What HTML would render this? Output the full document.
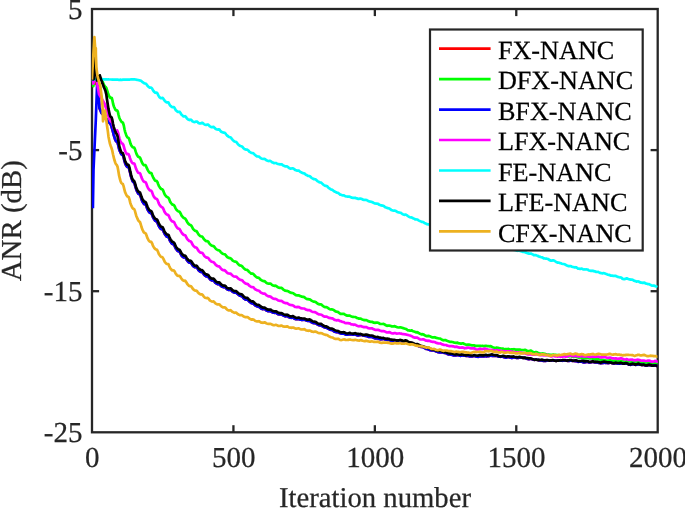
<!DOCTYPE html>
<html lang="en">
<head>
<meta charset="utf-8">
<title>ANR vs Iteration number</title>
<style>
html,body{margin:0;padding:0;background:#ffffff;}
text{text-rendering:geometricPrecision;stroke-width:0.25px;paint-order:stroke fill;}
body{width:685px;height:508px;overflow:hidden;position:relative;font-family:"Liberation Serif",serif;}
</style>
</head>
<body>
<svg width="685" height="508" viewBox="0 0 685 508" style="position:absolute;left:0;top:0;display:block;will-change:transform">
<rect x="0" y="0" width="685" height="508" fill="#ffffff"/>
<defs><clipPath id="ax"><rect x="91.7" y="9.0" width="566.1" height="423.3"/></clipPath></defs>
<g stroke="#262626" stroke-width="2.3" fill="none" stroke-linecap="butt">
<rect x="92.0" y="9.0" width="565.7" height="423.3"/>
<line x1="233.43" y1="432.3" x2="233.43" y2="425.2"/>
<line x1="233.43" y1="9.0" x2="233.43" y2="16.1"/>
<line x1="374.85" y1="432.3" x2="374.85" y2="425.2"/>
<line x1="374.85" y1="9.0" x2="374.85" y2="16.1"/>
<line x1="516.28" y1="432.3" x2="516.28" y2="425.2"/>
<line x1="516.28" y1="9.0" x2="516.28" y2="16.1"/>
<line x1="92.0" y1="150.10" x2="99.1" y2="150.10"/>
<line x1="657.7" y1="150.10" x2="650.6" y2="150.10"/>
<line x1="92.0" y1="291.20" x2="99.1" y2="291.20"/>
<line x1="657.7" y1="291.20" x2="650.6" y2="291.20"/>
</g>
<g clip-path="url(#ax)" fill="none" stroke-width="2.7" stroke-linejoin="round" stroke-linecap="butt">
<path d="M92.2,79.6 L94.0,81.0 L97.1,85.0 L97.8,88.0 L98.7,96.0 L99.4,108.0 L101.5,113.0 L104.0,115.5 L109.7,123.2 L110.7,124.3 L111.5,126.5 L112.2,128.8 L113.0,131.9 L113.7,134.8 L114.5,137.3 L115.2,139.5 L116.0,141.2 L116.7,141.7 L117.5,142.4 L118.2,145.0 L119.0,148.5 L119.7,150.8 L120.5,152.5 L121.2,154.0 L122.0,154.7 L122.7,155.0 L123.5,156.6 L124.2,159.8 L125.0,162.7 L125.7,164.6 L126.5,166.0 L127.2,166.9 L128.0,167.0 L128.7,167.4 L129.4,169.7 L130.2,173.0 L130.9,176.1 L131.7,178.5 L132.4,180.7 L133.2,181.9 L133.9,182.4 L134.7,183.9 L135.4,186.6 L136.2,189.2 L136.9,191.0 L137.7,192.6 L138.4,193.7 L139.2,194.0 L139.9,194.6 L140.7,196.4 L141.4,198.9 L142.2,200.9 L142.9,202.3 L143.7,203.5 L144.4,204.1 L145.2,204.2 L145.9,204.9 L146.7,207.0 L147.4,209.1 L148.2,210.6 L148.9,211.7 L149.7,212.7 L150.4,212.9 L151.2,213.0 L151.9,214.2 L152.7,216.4 L153.4,218.1 L154.2,219.3 L154.9,220.4 L155.7,221.1 L156.4,221.2 L157.2,221.9 L157.9,223.7 L158.7,225.7 L159.4,227.0 L160.2,228.1 L160.9,229.0 L161.7,229.2 L162.4,229.3 L163.2,230.3 L163.9,232.2 L164.7,233.8 L165.4,235.0 L166.2,236.0 L166.9,236.7 L167.7,236.7 L168.4,237.2 L169.2,238.7 L169.9,240.6 L170.7,241.9 L171.4,243.0 L172.2,243.8 L172.9,244.2 L173.7,244.3 L174.4,245.4 L175.2,247.2 L175.9,248.7 L176.7,249.7 L177.4,250.6 L178.2,251.2 L178.9,251.3 L179.7,251.8 L180.4,253.1 L181.2,254.9 L181.9,256.0 L182.7,256.7 L183.4,257.3 L184.2,257.4 L184.9,257.2 L185.7,257.8 L186.4,259.2 L187.2,260.5 L187.9,261.4 L188.7,262.2 L189.4,262.7 L190.2,262.7 L190.9,262.9 L191.7,263.9 L192.4,265.1 L193.2,266.0 L193.9,266.6 L194.7,267.1 L195.4,267.2 L196.2,267.2 L196.9,267.6 L197.7,268.7 L198.4,270.0 L199.2,270.8 L199.9,271.4 L200.7,271.9 L201.4,272.0 L202.2,272.0 L202.9,272.8 L203.7,274.1 L204.4,275.0 L205.2,275.7 L205.9,276.2 L206.7,276.5 L207.4,276.4 L208.2,276.7 L208.9,277.7 L209.7,278.8 L210.4,279.5 L211.2,280.0 L211.9,280.5 L212.7,280.4 L213.4,280.4 L214.2,281.1 L214.9,282.2 L215.7,283.0 L216.4,283.5 L217.2,283.9 L217.9,284.1 L218.7,284.0 L219.4,284.2 L220.2,285.0 L220.9,285.9 L221.7,286.5 L222.4,286.8 L223.2,287.1 L223.9,287.2 L224.7,287.0 L225.4,287.4 L226.2,288.3 L226.9,289.1 L227.7,289.5 L228.4,289.9 L229.2,290.0 L229.9,289.8 L230.7,289.9 L231.4,290.5 L232.2,291.3 L232.9,291.8 L233.7,292.3 L234.4,292.6 L235.2,292.7 L235.9,292.5 L236.7,293.0 L237.4,293.8 L238.2,294.5 L238.9,295.0 L239.7,295.6 L240.4,295.8 L241.2,295.9 L241.9,296.2 L242.7,297.0 L243.4,298.0 L244.2,298.7 L244.9,299.2 L245.7,299.6 L246.4,299.7 L247.2,299.6 L247.9,300.0 L248.7,300.9 L249.4,301.6 L250.2,302.2 L250.9,302.8 L251.7,303.2 L252.4,303.3 L253.2,303.5 L253.9,304.1 L254.7,304.9 L255.4,305.5 L256.2,305.9 L256.9,306.3 L257.7,306.6 L258.4,306.6 L259.2,306.9 L259.9,307.7 L260.7,308.2 L261.4,308.7 L262.2,308.9 L262.9,309.1 L263.7,309.0 L264.4,309.0 L265.2,309.3 L265.9,310.0 L266.7,310.5 L267.4,310.9 L268.2,311.1 L268.9,311.1 L269.7,310.9 L270.4,311.0 L271.2,311.5 L271.9,312.1 L272.7,312.4 L273.4,312.6 L274.2,312.8 L274.9,312.7 L275.7,312.7 L276.4,313.1 L277.2,313.7 L277.9,314.1 L278.7,314.3 L279.4,314.4 L280.2,314.4 L280.9,314.1 L281.7,314.3 L282.4,314.8 L283.2,315.4 L283.9,315.8 L284.7,316.1 L285.4,316.3 L286.2,316.2 L286.9,316.0 L287.7,316.1 L288.4,316.9 L289.2,317.2 L289.9,317.6 L290.7,317.7 L291.4,317.8 L292.2,317.6 L292.9,317.7 L293.7,318.0 L294.4,318.6 L295.2,318.9 L295.9,319.1 L296.7,319.1 L297.4,319.1 L298.2,318.9 L298.9,319.0 L299.7,319.4 L300.4,319.6 L301.2,319.8 L301.9,319.9 L302.7,320.0 L303.4,319.7 L304.2,319.7 L304.9,319.8 L305.7,320.2 L306.4,320.4 L307.2,320.7 L307.9,320.9 L308.7,321.0 L309.4,320.9 L310.2,321.2 L310.9,321.8 L311.7,322.3 L312.4,322.7 L313.2,323.0 L313.9,323.1 L314.7,323.1 L315.4,323.2 L316.2,323.5 L316.9,324.1 L317.7,324.5 L318.4,324.9 L319.2,325.2 L319.9,325.3 L320.7,325.3 L321.4,325.6 L322.2,326.0 L322.9,326.6 L323.7,327.0 L324.4,327.3 L325.2,327.6 L325.9,327.7 L326.7,327.8 L327.4,328.2 L328.2,328.8 L328.9,329.1 L329.7,329.4 L330.4,329.7 L331.2,329.9 L331.9,329.9 L332.7,330.2 L333.4,330.8 L334.2,331.4 L334.9,331.7 L335.7,332.0 L336.4,332.1 L337.2,332.1 L337.9,332.2 L338.7,332.5 L339.4,333.0 L340.2,333.2 L340.9,333.4 L341.7,333.6 L342.4,333.7 L343.2,333.6 L343.9,333.7 L344.7,334.0 L345.4,334.4 L346.2,334.6 L346.9,334.7 L347.7,334.6 L348.4,334.5 L349.2,334.2 L349.9,334.2 L350.7,334.4 L351.4,334.5 L352.2,334.5 L352.9,334.6 L353.7,334.4 L354.4,334.4 L355.2,334.5 L355.9,334.7 L356.7,335.1 L357.4,335.3 L358.2,335.4 L358.9,335.2 L359.7,335.2 L360.4,334.9 L361.2,334.8 L361.9,335.0 L362.7,335.4 L363.4,335.5 L364.2,335.6 L364.9,335.8 L365.7,335.9 L366.4,336.0 L367.2,336.3 L367.9,336.7 L368.7,336.8 L369.4,336.9 L370.2,336.9 L370.9,337.0 L371.7,336.9 L372.4,337.1 L373.2,337.5 L373.9,337.9 L374.7,338.1 L375.4,338.4 L376.2,338.4 L376.9,338.3 L377.7,338.5 L378.4,338.7 L379.2,339.0 L379.9,339.1 L380.7,339.3 L381.4,339.2 L382.2,339.1 L382.9,339.0 L383.7,339.0 L384.4,339.2 L385.2,339.5 L385.9,339.7 L386.7,339.7 L387.4,339.9 L388.2,339.9 L388.9,339.9 L389.7,340.1 L390.4,340.8 L391.2,341.0 L391.9,340.9 L392.7,341.0 L393.4,340.8 L394.2,340.4 L394.9,340.5 L395.7,340.6 L396.4,340.6 L397.2,340.8 L397.9,341.1 L398.7,341.0 L399.4,341.0 L400.2,340.9 L400.9,341.1 L401.7,341.1 L402.4,341.6 L403.2,341.6 L403.9,341.7 L404.7,341.6 L405.4,341.7 L406.2,341.5 L406.9,341.8 L407.7,342.3 L408.4,342.5 L409.2,342.7 L409.9,342.9 L410.7,343.0 L411.4,343.0 L412.2,343.2 L412.9,343.7 L413.7,344.0 L414.4,344.1 L415.2,344.4 L415.9,344.6 L416.7,344.5 L417.4,345.0 L418.2,345.6 L418.9,346.2 L419.7,346.4 L420.4,346.7 L421.2,346.9 L421.9,346.8 L422.7,346.8 L423.4,347.4 L424.2,347.8 L424.9,348.2 L425.7,348.6 L426.4,349.0 L427.2,349.0 L427.9,349.2 L428.7,349.5 L429.4,349.9 L430.2,350.1 L430.9,350.3 L431.7,350.2 L432.4,350.3 L433.2,350.2 L433.9,350.4 L434.7,350.6 L435.4,351.1 L436.2,351.4 L436.9,351.6 L437.7,351.9 L438.4,352.2 L439.2,352.3 L439.9,352.3 L440.7,352.4 L441.4,352.5 L442.2,352.5 L442.9,352.5 L443.7,352.6 L444.4,352.9 L445.2,352.8 L445.9,353.1 L446.7,353.6 L447.4,353.9 L448.2,354.3 L448.9,354.4 L449.7,354.5 L450.4,354.5 L451.2,354.8 L451.9,354.6 L452.7,355.0 L453.4,355.5 L454.2,355.5 L454.9,355.4 L455.7,355.5 L456.4,355.1 L457.2,354.9 L457.9,355.1 L458.7,355.3 L459.4,355.6 L460.2,355.8 L460.9,355.7 L461.7,355.6 L462.4,355.4 L463.2,355.3 L463.9,355.7 L464.7,355.7 L465.4,355.7 L466.2,355.9 L466.9,356.0 L467.7,355.8 L468.4,356.0 L469.2,356.3 L469.9,356.5 L470.7,356.5 L471.4,356.4 L472.2,356.4 L472.9,356.2 L473.7,356.0 L474.4,355.9 L475.2,356.3 L475.9,356.5 L476.7,356.7 L477.4,356.7 L478.2,356.8 L478.9,356.5 L479.7,356.3 L480.4,356.2 L481.2,356.3 L481.9,356.5 L482.7,356.3 L483.4,356.4 L484.2,356.3 L484.9,356.2 L485.7,356.1 L486.4,356.4 L487.2,356.2 L487.9,356.2 L488.7,356.1 L489.4,356.0 L490.2,355.7 L490.9,355.6 L491.7,355.8 L492.4,355.7 L493.2,355.8 L493.9,356.0 L494.7,355.9 L495.4,355.9 L496.2,356.0 L496.9,355.9 L497.7,356.1 L498.4,356.6 L499.2,356.6 L499.9,356.6 L500.7,356.8 L501.4,356.6 L502.2,356.5 L502.9,356.7 L503.7,357.1 L504.4,357.3 L505.2,357.6 L505.9,357.6 L506.7,357.4 L507.4,357.1 L508.2,357.0 L508.9,357.1 L509.7,357.5 L510.4,357.6 L511.2,357.8 L511.9,357.9 L512.7,357.7 L513.5,357.4 L514.2,357.3 L515.0,357.5 L515.7,357.7 L516.5,357.8 L517.2,357.9 L518.0,358.0 L518.7,357.7 L519.5,357.4 L520.2,357.5 L521.0,357.5 L521.7,357.6 L522.5,357.8 L523.2,357.9 L524.0,357.9 L524.7,358.0 L525.5,358.1 L526.2,358.5 L527.0,358.7 L527.7,359.0 L528.5,359.1 L529.2,359.1 L530.0,358.9 L530.7,359.0 L531.5,359.0 L532.2,359.3 L533.0,359.5 L533.7,359.7 L534.5,359.9 L535.2,359.6 L536.0,359.6 L536.7,359.7 L537.5,359.9 L538.2,359.8 L539.0,360.2 L539.7,360.3 L540.5,360.3 L541.2,360.3 L542.0,360.6 L542.7,360.8 L543.5,361.0 L544.2,360.8 L545.0,360.9 L545.7,360.9 L546.5,360.6 L547.2,360.4 L548.0,360.4 L548.7,360.3 L549.5,360.4 L550.2,360.4 L551.0,360.4 L551.7,360.5 L552.5,360.4 L553.2,360.3 L554.0,360.4 L554.7,360.5 L555.5,360.7 L556.2,360.8 L557.0,360.7 L557.7,360.7 L558.5,360.6 L559.2,360.5 L560.0,360.7 L560.7,360.7 L561.5,360.6 L562.2,360.8 L563.0,360.6 L563.7,360.4 L564.5,360.4 L565.2,360.5 L566.0,360.5 L566.7,360.7 L567.5,360.8 L568.2,360.9 L569.0,360.9 L569.7,360.7 L570.5,360.5 L571.2,360.5 L572.0,360.8 L572.7,360.8 L573.5,361.0 L574.2,361.0 L575.0,361.1 L575.7,361.0 L576.5,361.3 L577.2,361.5 L578.0,361.8 L578.7,361.7 L579.5,361.7 L580.2,361.6 L581.0,361.6 L581.7,361.8 L582.5,362.0 L583.2,362.3 L584.0,362.4 L584.7,362.4 L585.5,362.1 L586.2,362.1 L587.0,361.8 L587.7,362.0 L588.5,362.3 L589.2,362.4 L590.0,362.3 L590.7,362.2 L591.5,362.1 L592.2,361.9 L593.0,362.0 L593.7,362.2 L594.5,362.2 L595.2,362.4 L596.0,362.4 L596.7,362.4 L597.5,362.5 L598.2,362.7 L599.0,362.9 L599.7,363.0 L600.5,363.3 L601.2,363.1 L602.0,363.2 L602.7,362.8 L603.5,362.9 L604.2,362.6 L605.0,362.8 L605.7,362.7 L606.5,363.0 L607.2,363.0 L608.0,363.1 L608.7,362.9 L609.5,362.8 L610.2,362.5 L611.0,362.6 L611.7,363.0 L612.5,363.2 L613.2,363.3 L614.0,363.5 L614.7,363.4 L615.5,363.2 L616.2,363.2 L617.0,363.4 L617.7,363.6 L618.5,363.6 L619.2,363.5 L620.0,363.6 L620.7,363.5 L621.5,363.3 L622.2,363.5 L623.0,363.7 L623.7,363.6 L624.5,363.4 L625.2,363.6 L626.0,363.5 L626.7,363.6 L627.5,363.8 L628.2,364.2 L629.0,364.6 L629.7,364.7 L630.5,364.8 L631.2,364.6 L632.0,364.4 L632.7,364.1 L633.5,364.1 L634.2,364.4 L635.0,364.7 L635.7,364.8 L636.5,364.7 L637.2,364.6 L638.0,364.4 L638.7,364.3 L639.5,364.4 L640.2,364.6 L641.0,364.8 L641.7,364.9 L642.5,364.8 L643.2,364.8 L644.0,365.0 L644.7,365.2 L645.5,365.3 L646.2,365.3 L647.0,365.3 L647.7,365.2 L648.5,365.2 L649.2,364.9 L650.0,365.0 L650.7,365.3 L651.5,365.4 L652.2,365.5 L653.0,365.6 L653.7,365.7 L654.5,365.4 L655.2,365.4 L656.0,365.6 L656.7,365.9 L657.5,365.9" stroke="#ff0000"/>
<path d="M92.2,79.6 L93.3,86.2 L94.5,80.5 L98.0,79.5 L101.5,79.5 L102.0,80.6 L102.8,82.1 L103.5,83.7 L104.2,85.4 L105.0,86.5 L105.8,87.1 L106.5,88.3 L107.2,90.6 L108.0,93.2 L108.8,95.2 L109.5,96.8 L110.2,97.9 L111.0,97.7 L111.8,98.0 L112.5,100.7 L113.2,104.3 L114.0,106.7 L114.8,108.4 L115.5,109.9 L116.2,110.4 L117.0,110.3 L117.8,111.5 L118.5,114.6 L119.2,117.4 L120.0,119.3 L120.8,120.7 L121.5,121.9 L122.2,122.2 L123.0,122.8 L123.8,125.5 L124.5,129.2 L125.2,132.1 L126.0,134.4 L126.8,136.4 L127.5,137.5 L128.2,137.7 L129.0,138.7 L129.8,141.2 L130.5,143.6 L131.2,145.2 L132.0,146.4 L132.8,147.3 L133.5,147.5 L134.2,147.6 L135.0,149.3 L135.8,151.9 L136.5,153.9 L137.2,155.3 L138.0,156.6 L138.8,157.1 L139.5,157.2 L140.2,157.9 L141.0,159.9 L141.8,162.1 L142.5,163.5 L143.2,164.5 L144.0,165.2 L144.8,165.2 L145.5,165.2 L146.2,166.4 L147.0,168.4 L147.8,170.1 L148.5,171.2 L149.2,172.2 L150.0,172.9 L150.8,172.8 L151.5,173.3 L152.2,175.2 L153.0,177.1 L153.8,178.5 L154.5,179.7 L155.2,180.7 L156.0,180.9 L156.8,181.1 L157.5,182.2 L158.2,184.3 L159.0,186.1 L159.8,187.4 L160.5,188.3 L161.2,189.0 L162.0,189.2 L162.8,189.8 L163.5,191.4 L164.2,193.4 L165.0,194.9 L165.8,195.8 L166.5,196.7 L167.2,197.1 L168.0,197.4 L168.8,198.3 L169.5,200.1 L170.2,201.9 L171.0,203.0 L171.8,204.0 L172.5,204.6 L173.2,204.8 L174.0,205.2 L174.8,206.5 L175.5,208.1 L176.2,209.4 L177.0,210.3 L177.8,211.0 L178.5,211.5 L179.2,211.6 L180.0,212.3 L180.8,213.9 L181.5,215.4 L182.2,216.4 L183.0,217.2 L183.8,218.0 L184.5,218.2 L185.2,218.6 L186.0,219.7 L186.8,221.3 L187.5,222.5 L188.2,223.5 L189.0,224.3 L189.8,224.7 L190.5,225.0 L191.2,225.6 L192.0,226.8 L192.8,228.4 L193.5,229.4 L194.2,230.1 L195.0,230.8 L195.8,231.1 L196.5,231.2 L197.2,232.1 L198.0,233.5 L198.8,234.7 L199.5,235.4 L200.2,236.0 L201.0,236.4 L201.8,236.5 L202.5,236.9 L203.2,238.0 L204.0,239.3 L204.8,240.0 L205.5,240.6 L206.2,241.1 L207.0,241.2 L207.8,241.3 L208.5,242.0 L209.2,243.3 L210.0,244.2 L210.8,244.9 L211.5,245.5 L212.2,245.8 L213.0,245.9 L213.8,246.2 L214.5,247.1 L215.2,248.1 L216.0,248.9 L216.8,249.5 L217.5,250.0 L218.2,250.2 L219.0,250.3 L219.8,250.8 L220.5,251.8 L221.2,252.6 L222.0,253.3 L222.8,253.7 L223.5,254.0 L224.2,254.2 L225.0,254.4 L225.8,255.2 L226.5,256.3 L227.2,257.0 L228.0,257.5 L228.8,257.9 L229.5,258.1 L230.2,258.1 L231.0,258.6 L231.8,259.5 L232.5,260.4 L233.2,260.9 L234.0,261.3 L234.8,261.6 L235.5,261.7 L236.2,261.8 L237.0,262.6 L237.8,263.6 L238.5,264.4 L239.2,265.0 L240.0,265.5 L240.8,265.6 L241.5,265.8 L242.2,266.3 L243.0,267.3 L243.8,268.2 L244.5,268.9 L245.2,269.4 L246.0,269.7 L246.8,269.9 L247.5,270.1 L248.2,270.8 L249.0,271.8 L249.8,272.5 L250.5,273.0 L251.2,273.6 L252.0,273.7 L252.8,273.7 L253.5,274.1 L254.2,275.0 L255.0,275.9 L255.8,276.6 L256.5,277.2 L257.2,277.6 L258.0,277.7 L258.8,277.8 L259.5,278.4 L260.2,279.3 L261.0,279.8 L261.8,280.4 L262.5,280.8 L263.2,281.1 L264.0,281.0 L264.8,281.3 L265.5,282.0 L266.2,282.6 L267.0,283.2 L267.8,283.5 L268.5,283.6 L269.2,283.6 L270.0,283.5 L270.8,283.8 L271.5,284.4 L272.2,285.1 L273.0,285.4 L273.8,285.7 L274.5,285.8 L275.2,285.7 L276.0,285.8 L276.8,286.4 L277.5,287.0 L278.2,287.4 L279.0,287.7 L279.8,287.8 L280.5,287.8 L281.2,287.8 L282.0,288.2 L282.8,289.0 L283.5,289.7 L284.2,290.1 L285.0,290.6 L285.8,290.8 L286.5,290.8 L287.2,290.9 L288.0,291.2 L288.8,291.7 L289.5,292.2 L290.2,292.4 L291.0,292.8 L291.8,292.9 L292.5,293.0 L293.2,293.2 L294.0,293.8 L294.8,294.3 L295.5,294.9 L296.2,295.2 L297.0,295.3 L297.8,295.3 L298.5,295.3 L299.2,295.5 L300.0,296.0 L300.8,296.3 L301.5,296.6 L302.2,296.7 L303.0,296.9 L303.8,296.9 L304.5,297.4 L305.2,297.9 L306.0,298.6 L306.8,298.9 L307.5,299.2 L308.2,299.2 L309.0,299.3 L309.8,299.3 L310.5,299.8 L311.2,300.4 L312.0,300.9 L312.8,301.3 L313.5,301.6 L314.2,301.7 L315.0,301.8 L315.8,302.0 L316.5,302.7 L317.2,303.4 L318.0,303.9 L318.8,304.1 L319.5,304.4 L320.2,304.3 L321.0,304.3 L321.8,304.9 L322.5,305.6 L323.2,306.2 L324.0,306.7 L324.8,307.1 L325.5,307.1 L326.2,307.1 L327.0,307.3 L327.8,307.8 L328.5,308.4 L329.2,308.9 L330.0,309.3 L330.8,309.5 L331.5,309.4 L332.2,309.4 L333.0,309.7 L333.8,310.2 L334.5,310.7 L335.2,311.2 L336.0,311.6 L336.8,311.7 L337.5,311.9 L338.2,312.1 L339.0,312.8 L339.8,313.3 L340.5,313.8 L341.2,313.9 L342.0,313.9 L342.8,313.9 L343.5,313.8 L344.2,314.1 L345.0,314.6 L345.8,315.1 L346.5,315.4 L347.2,315.6 L348.0,315.6 L348.8,315.5 L349.5,315.5 L350.2,315.9 L351.0,316.3 L351.8,316.6 L352.5,316.8 L353.2,316.9 L354.0,317.0 L354.8,317.0 L355.5,317.0 L356.2,317.5 L357.0,318.0 L357.8,318.2 L358.5,318.4 L359.2,318.7 L360.0,318.7 L360.8,318.7 L361.5,319.0 L362.2,319.5 L363.0,319.7 L363.8,319.9 L364.5,320.2 L365.2,320.2 L366.0,320.1 L366.8,320.3 L367.5,320.7 L368.2,321.2 L369.0,321.4 L369.8,321.6 L370.5,321.8 L371.2,321.9 L372.0,321.9 L372.8,322.1 L373.5,322.6 L374.2,322.7 L375.0,322.8 L375.8,322.7 L376.5,322.7 L377.2,322.6 L378.0,322.8 L378.8,323.1 L379.5,323.6 L380.2,323.9 L381.0,324.0 L381.8,324.0 L382.5,324.0 L383.2,323.9 L384.0,324.1 L384.8,324.5 L385.5,325.1 L386.2,325.4 L387.0,325.8 L387.8,325.7 L388.5,325.7 L389.2,325.6 L390.0,325.8 L390.8,325.9 L391.5,326.3 L392.2,326.4 L393.0,326.5 L393.8,326.3 L394.5,326.2 L395.2,326.3 L396.0,326.8 L396.8,327.1 L397.5,327.3 L398.2,327.5 L399.0,327.5 L399.8,327.4 L400.5,327.3 L401.2,327.5 L402.0,327.8 L402.8,328.1 L403.5,328.1 L404.2,328.5 L405.0,328.7 L405.8,328.9 L406.5,329.2 L407.2,329.8 L408.0,330.3 L408.8,330.3 L409.5,330.6 L410.2,330.6 L411.0,330.6 L411.8,330.4 L412.5,330.9 L413.2,331.2 L414.0,331.5 L414.8,331.8 L415.5,332.2 L416.2,332.3 L417.0,332.2 L417.8,332.3 L418.5,333.0 L419.2,333.3 L420.0,333.7 L420.8,334.0 L421.5,334.4 L422.2,334.2 L423.0,334.3 L423.8,334.5 L424.5,335.2 L425.2,335.6 L426.0,335.9 L426.8,336.1 L427.5,336.1 L428.2,335.9 L429.0,335.9 L429.8,336.2 L430.5,336.6 L431.2,336.9 L432.0,337.3 L432.8,337.4 L433.5,337.4 L434.2,337.2 L435.0,337.4 L435.8,337.6 L436.5,338.0 L437.2,338.1 L438.0,338.3 L438.8,338.5 L439.5,338.5 L440.2,338.6 L441.0,339.2 L441.8,339.7 L442.5,339.9 L443.2,340.2 L444.0,340.3 L444.8,340.1 L445.5,340.1 L446.2,340.4 L447.0,340.8 L447.8,341.1 L448.5,341.3 L449.2,341.7 L450.0,341.8 L450.8,341.8 L451.5,341.9 L452.2,342.0 L453.0,342.1 L453.8,342.5 L454.5,342.7 L455.2,342.7 L456.0,342.9 L456.8,342.7 L457.5,342.6 L458.2,343.2 L459.0,343.3 L459.8,343.3 L460.5,343.7 L461.2,343.7 L462.0,343.4 L462.8,343.3 L463.5,343.6 L464.2,343.9 L465.0,344.3 L465.8,344.6 L466.5,344.9 L467.2,344.8 L468.0,344.5 L468.8,344.5 L469.5,344.8 L470.2,344.9 L471.0,345.2 L471.8,345.3 L472.5,345.3 L473.2,345.3 L474.0,345.4 L474.8,345.6 L475.5,345.8 L476.2,345.8 L477.0,345.9 L477.8,345.9 L478.5,345.9 L479.2,345.8 L480.0,345.8 L480.8,345.9 L481.5,346.0 L482.2,345.9 L483.0,345.9 L483.8,346.2 L484.5,346.0 L485.2,345.8 L486.0,345.8 L486.8,346.1 L487.5,346.1 L488.2,346.0 L489.0,346.2 L489.8,346.3 L490.5,346.2 L491.2,346.3 L492.0,346.9 L492.8,347.4 L493.5,347.5 L494.2,347.7 L495.0,348.0 L495.8,347.8 L496.5,347.6 L497.2,347.7 L498.0,347.9 L498.8,348.1 L499.5,348.3 L500.2,348.4 L501.0,348.5 L501.8,348.5 L502.5,348.6 L503.2,348.7 L504.0,349.0 L504.8,349.2 L505.5,349.2 L506.2,349.2 L507.0,349.2 L507.8,349.1 L508.5,348.9 L509.2,349.2 L510.0,349.4 L510.8,349.5 L511.5,349.4 L512.2,349.6 L513.0,349.4 L513.8,349.2 L514.5,349.3 L515.2,349.6 L516.0,349.7 L516.8,349.7 L517.5,349.6 L518.2,349.7 L519.0,349.6 L519.8,349.6 L520.5,349.9 L521.2,350.1 L522.0,350.1 L522.8,350.0 L523.5,350.1 L524.2,350.1 L525.0,349.9 L525.8,350.1 L526.5,350.7 L527.2,350.9 L528.0,350.9 L528.8,351.2 L529.5,351.0 L530.2,350.7 L531.0,350.7 L531.8,351.2 L532.5,351.6 L533.2,352.1 L534.0,352.3 L534.8,352.3 L535.5,352.2 L536.2,352.1 L537.0,352.3 L537.8,352.7 L538.5,353.0 L539.2,353.3 L540.0,353.6 L540.8,353.5 L541.5,353.5 L542.2,353.5 L543.0,353.4 L543.8,353.7 L544.5,353.8 L545.2,353.9 L546.0,354.2 L546.8,354.4 L547.5,354.5 L548.2,354.6 L549.0,354.7 L549.8,354.8 L550.5,354.9 L551.2,354.9 L552.0,355.0 L552.8,354.7 L553.5,354.7 L554.2,354.8 L555.0,354.9 L555.8,354.8 L556.5,355.0 L557.2,355.0 L558.0,355.0 L558.8,355.0 L559.5,355.3 L560.2,355.5 L561.0,355.6 L561.8,355.7 L562.5,355.7 L563.2,355.5 L564.0,355.5 L564.8,355.4 L565.5,355.6 L566.2,355.9 L567.0,356.2 L567.8,356.3 L568.5,356.2 L569.2,356.3 L570.0,356.0 L570.8,356.0 L571.5,356.4 L572.2,356.6 L573.0,356.8 L573.8,356.9 L574.5,356.7 L575.2,356.5 L576.0,356.8 L576.8,356.9 L577.5,357.3 L578.2,357.5 L579.0,357.7 L579.8,357.5 L580.5,357.5 L581.2,357.7 L582.0,358.0 L582.8,358.3 L583.5,358.5 L584.2,358.6 L585.0,358.3 L585.8,358.2 L586.5,358.0 L587.2,357.9 L588.0,358.0 L588.8,358.2 L589.5,358.5 L590.2,358.5 L591.0,358.5 L591.8,358.5 L592.5,358.6 L593.2,358.4 L594.0,358.7 L594.8,359.3 L595.5,359.4 L596.2,359.3 L597.0,359.4 L597.8,359.4 L598.5,359.0 L599.2,359.4 L600.0,359.8 L600.8,359.9 L601.5,359.9 L602.2,360.1 L603.0,360.0 L603.8,359.9 L604.5,360.0 L605.2,360.3 L606.0,360.6 L606.8,360.6 L607.5,360.6 L608.2,360.5 L609.0,360.4 L609.8,360.0 L610.5,360.3 L611.2,360.6 L612.0,360.9 L612.8,360.8 L613.5,360.8 L614.2,360.8 L615.0,360.6 L615.8,360.5 L616.5,360.8 L617.2,361.3 L618.0,361.4 L618.8,361.4 L619.5,361.5 L620.2,361.3 L621.0,360.9 L621.8,361.0 L622.5,361.2 L623.2,361.4 L624.0,361.5 L624.8,361.8 L625.5,361.8 L626.2,361.5 L627.0,361.3 L627.8,361.5 L628.5,361.5 L629.2,361.5 L630.0,361.6 L630.8,361.7 L631.5,361.7 L632.2,361.6 L633.0,361.7 L633.8,362.0 L634.5,362.3 L635.2,362.3 L636.0,362.2 L636.8,361.9 L637.5,361.7 L638.2,361.4 L639.0,361.6 L639.8,362.1 L640.5,362.2 L641.2,362.4 L642.0,362.7 L642.8,362.7 L643.5,362.4 L644.2,362.8 L645.0,363.2 L645.8,363.1 L646.5,363.0 L647.2,363.0 L648.0,362.8 L648.8,362.5 L649.5,362.3 L650.2,362.4 L651.0,362.7 L651.8,362.9 L652.5,362.9 L653.2,363.3 L654.0,363.2 L654.8,363.1 L655.5,362.9 L656.2,363.2 L657.0,363.4 L657.8,363.6" stroke="#00ff00"/>
<path d="M92.9,208.2 L93.5,170.0 L95.8,120.0 L97.1,85.0 L97.8,88.0 L98.7,96.0 L99.4,108.0 L101.5,113.0 L104.0,115.5 L109.7,123.2 L110.7,124.3 L111.5,126.5 L112.2,128.8 L113.0,131.9 L113.7,134.8 L114.5,137.3 L115.2,139.5 L116.0,141.2 L116.7,141.7 L117.5,142.4 L118.2,145.0 L119.0,148.5 L119.7,150.8 L120.5,152.5 L121.2,154.0 L122.0,154.7 L122.7,155.0 L123.5,156.6 L124.2,159.8 L125.0,162.7 L125.7,164.6 L126.5,166.0 L127.2,166.9 L128.0,167.0 L128.7,167.4 L129.4,169.7 L130.2,173.0 L130.9,176.1 L131.7,178.5 L132.4,180.7 L133.2,181.9 L133.9,182.4 L134.7,183.9 L135.4,186.6 L136.2,189.2 L136.9,191.0 L137.7,192.6 L138.4,193.7 L139.2,194.0 L139.9,194.6 L140.7,196.4 L141.4,198.9 L142.2,200.9 L142.9,202.3 L143.7,203.5 L144.4,204.1 L145.2,204.2 L145.9,204.9 L146.7,207.0 L147.4,209.1 L148.2,210.6 L148.9,211.7 L149.7,212.7 L150.4,212.9 L151.2,213.0 L151.9,214.2 L152.7,216.4 L153.4,218.1 L154.2,219.3 L154.9,220.4 L155.7,221.1 L156.4,221.2 L157.2,221.9 L157.9,223.7 L158.7,225.7 L159.4,227.0 L160.2,228.1 L160.9,229.0 L161.7,229.2 L162.4,229.3 L163.2,230.3 L163.9,232.2 L164.7,233.8 L165.4,235.0 L166.2,236.0 L166.9,236.7 L167.7,236.7 L168.4,237.2 L169.2,238.7 L169.9,240.6 L170.7,241.9 L171.4,243.0 L172.2,243.8 L172.9,244.2 L173.7,244.3 L174.4,245.4 L175.2,247.2 L175.9,248.7 L176.7,249.7 L177.4,250.6 L178.2,251.2 L178.9,251.3 L179.7,251.8 L180.4,253.1 L181.2,254.9 L181.9,256.0 L182.7,256.7 L183.4,257.3 L184.2,257.4 L184.9,257.2 L185.7,257.8 L186.4,259.2 L187.2,260.5 L187.9,261.4 L188.7,262.2 L189.4,262.7 L190.2,262.7 L190.9,262.9 L191.7,263.9 L192.4,265.1 L193.2,266.0 L193.9,266.6 L194.7,267.1 L195.4,267.2 L196.2,267.2 L196.9,267.6 L197.7,268.7 L198.4,270.0 L199.2,270.8 L199.9,271.4 L200.7,271.9 L201.4,272.0 L202.2,272.0 L202.9,272.8 L203.7,274.1 L204.4,275.0 L205.2,275.7 L205.9,276.2 L206.7,276.5 L207.4,276.4 L208.2,276.7 L208.9,277.7 L209.7,278.8 L210.4,279.5 L211.2,280.0 L211.9,280.5 L212.7,280.4 L213.4,280.4 L214.2,281.1 L214.9,282.2 L215.7,283.0 L216.4,283.5 L217.2,283.9 L217.9,284.1 L218.7,284.0 L219.4,284.2 L220.2,285.0 L220.9,285.9 L221.7,286.5 L222.4,286.8 L223.2,287.1 L223.9,287.2 L224.7,287.0 L225.4,287.4 L226.2,288.3 L226.9,289.1 L227.7,289.5 L228.4,289.9 L229.2,290.0 L229.9,289.8 L230.7,289.9 L231.4,290.5 L232.2,291.3 L232.9,291.8 L233.7,292.3 L234.4,292.6 L235.2,292.7 L235.9,292.5 L236.7,293.0 L237.4,293.8 L238.2,294.5 L238.9,295.0 L239.7,295.6 L240.4,295.8 L241.2,295.9 L241.9,296.2 L242.7,297.0 L243.4,298.0 L244.2,298.7 L244.9,299.2 L245.7,299.6 L246.4,299.7 L247.2,299.6 L247.9,300.0 L248.7,300.9 L249.4,301.6 L250.2,302.2 L250.9,302.8 L251.7,303.2 L252.4,303.3 L253.2,303.5 L253.9,304.1 L254.7,304.9 L255.4,305.5 L256.2,305.9 L256.9,306.3 L257.7,306.6 L258.4,306.6 L259.2,306.9 L259.9,307.7 L260.7,308.2 L261.4,308.7 L262.2,308.9 L262.9,309.1 L263.7,309.0 L264.4,309.0 L265.2,309.3 L265.9,310.0 L266.7,310.5 L267.4,310.9 L268.2,311.1 L268.9,311.1 L269.7,310.9 L270.4,311.0 L271.2,311.5 L271.9,312.1 L272.7,312.4 L273.4,312.6 L274.2,312.8 L274.9,312.7 L275.7,312.7 L276.4,313.1 L277.2,313.7 L277.9,314.1 L278.7,314.3 L279.4,314.4 L280.2,314.4 L280.9,314.1 L281.7,314.3 L282.4,314.8 L283.2,315.4 L283.9,315.8 L284.7,316.1 L285.4,316.3 L286.2,316.2 L286.9,316.0 L287.7,316.1 L288.4,316.9 L289.2,317.2 L289.9,317.6 L290.7,317.7 L291.4,317.8 L292.2,317.6 L292.9,317.7 L293.7,318.0 L294.4,318.6 L295.2,318.9 L295.9,319.1 L296.7,319.1 L297.4,319.1 L298.2,318.9 L298.9,319.0 L299.7,319.4 L300.4,319.6 L301.2,319.8 L301.9,319.9 L302.7,320.0 L303.4,319.7 L304.2,319.7 L304.9,319.8 L305.7,320.2 L306.4,320.4 L307.2,320.7 L307.9,320.9 L308.7,321.0 L309.4,320.9 L310.2,321.2 L310.9,321.8 L311.7,322.3 L312.4,322.7 L313.2,323.0 L313.9,323.1 L314.7,323.1 L315.4,323.2 L316.2,323.5 L316.9,324.1 L317.7,324.5 L318.4,324.9 L319.2,325.2 L319.9,325.3 L320.7,325.3 L321.4,325.6 L322.2,326.0 L322.9,326.6 L323.7,327.0 L324.4,327.3 L325.2,327.6 L325.9,327.7 L326.7,327.8 L327.4,328.2 L328.2,328.8 L328.9,329.1 L329.7,329.4 L330.4,329.7 L331.2,329.9 L331.9,329.9 L332.7,330.2 L333.4,330.8 L334.2,331.4 L334.9,331.7 L335.7,332.0 L336.4,332.1 L337.2,332.1 L337.9,332.2 L338.7,332.5 L339.4,333.0 L340.2,333.2 L340.9,333.4 L341.7,333.6 L342.4,333.7 L343.2,333.6 L343.9,333.7 L344.7,334.0 L345.4,334.4 L346.2,334.6 L346.9,334.7 L347.7,334.6 L348.4,334.5 L349.2,334.2 L349.9,334.2 L350.7,334.4 L351.4,334.5 L352.2,334.5 L352.9,334.6 L353.7,334.4 L354.4,334.4 L355.2,334.5 L355.9,334.7 L356.7,335.1 L357.4,335.3 L358.2,335.4 L358.9,335.2 L359.7,335.2 L360.4,334.9 L361.2,334.8 L361.9,335.0 L362.7,335.4 L363.4,335.5 L364.2,335.6 L364.9,335.8 L365.7,335.9 L366.4,336.0 L367.2,336.3 L367.9,336.7 L368.7,336.8 L369.4,336.9 L370.2,336.9 L370.9,337.0 L371.7,336.9 L372.4,337.1 L373.2,337.5 L373.9,337.9 L374.7,338.1 L375.4,338.4 L376.2,338.4 L376.9,338.3 L377.7,338.5 L378.4,338.7 L379.2,339.0 L379.9,339.1 L380.7,339.3 L381.4,339.2 L382.2,339.1 L382.9,339.0 L383.7,339.0 L384.4,339.2 L385.2,339.5 L385.9,339.7 L386.7,339.7 L387.4,339.9 L388.2,339.9 L388.9,339.9 L389.7,340.1 L390.4,340.8 L391.2,341.0 L391.9,340.9 L392.7,341.0 L393.4,340.8 L394.2,340.4 L394.9,340.5 L395.7,340.6 L396.4,340.6 L397.2,340.8 L397.9,341.1 L398.7,341.0 L399.4,341.0 L400.2,340.9 L400.9,341.1 L401.7,341.1 L402.4,341.6 L403.2,341.6 L403.9,341.7 L404.7,341.6 L405.4,341.7 L406.2,341.5 L406.9,341.8 L407.7,342.3 L408.4,342.5 L409.2,342.7 L409.9,342.9 L410.7,343.0 L411.4,343.0 L412.2,343.2 L412.9,343.7 L413.7,344.0 L414.4,344.1 L415.2,344.4 L415.9,344.6 L416.7,344.5 L417.4,345.0 L418.2,345.6 L418.9,346.2 L419.7,346.4 L420.4,346.7 L421.2,346.9 L421.9,346.8 L422.7,346.8 L423.4,347.4 L424.2,347.8 L424.9,348.2 L425.7,348.6 L426.4,349.0 L427.2,349.0 L427.9,349.2 L428.7,349.5 L429.4,349.9 L430.2,350.1 L430.9,350.3 L431.7,350.2 L432.4,350.3 L433.2,350.2 L433.9,350.4 L434.7,350.6 L435.4,351.1 L436.2,351.4 L436.9,351.6 L437.7,351.9 L438.4,352.2 L439.2,352.3 L439.9,352.3 L440.7,352.4 L441.4,352.5 L442.2,352.5 L442.9,352.5 L443.7,352.6 L444.4,352.9 L445.2,352.8 L445.9,353.1 L446.7,353.6 L447.4,353.9 L448.2,354.3 L448.9,354.4 L449.7,354.5 L450.4,354.5 L451.2,354.8 L451.9,354.6 L452.7,355.0 L453.4,355.5 L454.2,355.5 L454.9,355.4 L455.7,355.5 L456.4,355.1 L457.2,354.9 L457.9,355.1 L458.7,355.3 L459.4,355.6 L460.2,355.8 L460.9,355.7 L461.7,355.6 L462.4,355.4 L463.2,355.3 L463.9,355.7 L464.7,355.7 L465.4,355.7 L466.2,355.9 L466.9,356.0 L467.7,355.8 L468.4,356.0 L469.2,356.3 L469.9,356.5 L470.7,356.5 L471.4,356.4 L472.2,356.4 L472.9,356.2 L473.7,356.0 L474.4,355.9 L475.2,356.3 L475.9,356.5 L476.7,356.7 L477.4,356.7 L478.2,356.8 L478.9,356.5 L479.7,356.3 L480.4,356.2 L481.2,356.3 L481.9,356.5 L482.7,356.3 L483.4,356.4 L484.2,356.3 L484.9,356.2 L485.7,356.1 L486.4,356.4 L487.2,356.2 L487.9,356.2 L488.7,356.1 L489.4,356.0 L490.2,355.7 L490.9,355.6 L491.7,355.8 L492.4,355.7 L493.2,355.8 L493.9,356.0 L494.7,355.9 L495.4,355.9 L496.2,356.0 L496.9,355.9 L497.7,356.1 L498.4,356.6 L499.2,356.6 L499.9,356.6 L500.7,356.8 L501.4,356.6 L502.2,356.5 L502.9,356.7 L503.7,357.1 L504.4,357.3 L505.2,357.6 L505.9,357.6 L506.7,357.4 L507.4,357.1 L508.2,357.0 L508.9,357.1 L509.7,357.5 L510.4,357.6 L511.2,357.8 L511.9,357.9 L512.7,357.7 L513.5,357.4 L514.2,357.3 L515.0,357.5 L515.7,357.7 L516.5,357.8 L517.2,357.9 L518.0,358.0 L518.7,357.7 L519.5,357.4 L520.2,357.5 L521.0,357.5 L521.7,357.6 L522.5,357.8 L523.2,357.9 L524.0,357.9 L524.7,358.0 L525.5,358.1 L526.2,358.5 L527.0,358.7 L527.7,359.0 L528.5,359.1 L529.2,359.1 L530.0,358.9 L530.7,359.0 L531.5,359.0 L532.2,359.3 L533.0,359.5 L533.7,359.7 L534.5,359.9 L535.2,359.6 L536.0,359.6 L536.7,359.7 L537.5,359.9 L538.2,359.8 L539.0,360.2 L539.7,360.3 L540.5,360.3 L541.2,360.3 L542.0,360.6 L542.7,360.8 L543.5,361.0 L544.2,360.8 L545.0,360.9 L545.7,360.9 L546.5,360.6 L547.2,360.4 L548.0,360.4 L548.7,360.3 L549.5,360.4 L550.2,360.4 L551.0,360.4 L551.7,360.5 L552.5,360.4 L553.2,360.3 L554.0,360.4 L554.7,360.5 L555.5,360.7 L556.2,360.8 L557.0,360.7 L557.7,360.7 L558.5,360.6 L559.2,360.5 L560.0,360.7 L560.7,360.7 L561.5,360.6 L562.2,360.8 L563.0,360.6 L563.7,360.4 L564.5,360.4 L565.2,360.5 L566.0,360.5 L566.7,360.7 L567.5,360.8 L568.2,360.9 L569.0,360.9 L569.7,360.7 L570.5,360.5 L571.2,360.5 L572.0,360.8 L572.7,360.8 L573.5,361.0 L574.2,361.0 L575.0,361.1 L575.7,361.0 L576.5,361.3 L577.2,361.5 L578.0,361.8 L578.7,361.7 L579.5,361.7 L580.2,361.6 L581.0,361.6 L581.7,361.8 L582.5,362.0 L583.2,362.3 L584.0,362.4 L584.7,362.4 L585.5,362.1 L586.2,362.1 L587.0,361.8 L587.7,362.0 L588.5,362.3 L589.2,362.4 L590.0,362.3 L590.7,362.2 L591.5,362.1 L592.2,361.9 L593.0,362.0 L593.7,362.2 L594.5,362.2 L595.2,362.4 L596.0,362.4 L596.7,362.4 L597.5,362.5 L598.2,362.7 L599.0,362.9 L599.7,363.0 L600.5,363.3 L601.2,363.1 L602.0,363.2 L602.7,362.8 L603.5,362.9 L604.2,362.6 L605.0,362.8 L605.7,362.7 L606.5,363.0 L607.2,363.0 L608.0,363.1 L608.7,362.9 L609.5,362.8 L610.2,362.5 L611.0,362.6 L611.7,363.0 L612.5,363.2 L613.2,363.3 L614.0,363.5 L614.7,363.4 L615.5,363.2 L616.2,363.2 L617.0,363.4 L617.7,363.6 L618.5,363.6 L619.2,363.5 L620.0,363.6 L620.7,363.5 L621.5,363.3 L622.2,363.5 L623.0,363.7 L623.7,363.6 L624.5,363.4 L625.2,363.6 L626.0,363.5 L626.7,363.6 L627.5,363.8 L628.2,364.2 L629.0,364.6 L629.7,364.7 L630.5,364.8 L631.2,364.6 L632.0,364.4 L632.7,364.1 L633.5,364.1 L634.2,364.4 L635.0,364.7 L635.7,364.8 L636.5,364.7 L637.2,364.6 L638.0,364.4 L638.7,364.3 L639.5,364.4 L640.2,364.6 L641.0,364.8 L641.7,364.9 L642.5,364.8 L643.2,364.8 L644.0,365.0 L644.7,365.2 L645.5,365.3 L646.2,365.3 L647.0,365.3 L647.7,365.2 L648.5,365.2 L649.2,364.9 L650.0,365.0 L650.7,365.3 L651.5,365.4 L652.2,365.5 L653.0,365.6 L653.7,365.7 L654.5,365.4 L655.2,365.4 L656.0,365.6 L656.7,365.9 L657.5,365.9" stroke="#0000ff"/>
<path d="M92.2,79.6 L93.3,83.6 L94.5,80.0 L96.8,79.5 L97.6,86.0 L99.0,94.0 L104.5,103.5 L107.0,111.0 L107.5,112.5 L108.2,115.3 L109.0,117.8 L109.8,119.7 L110.5,121.1 L111.2,121.6 L112.0,122.4 L112.8,124.6 L113.5,127.2 L114.2,128.9 L115.0,130.1 L115.8,130.9 L116.5,130.5 L117.2,130.4 L118.0,132.4 L118.8,135.9 L119.5,138.6 L120.2,140.7 L121.0,142.4 L121.8,143.5 L122.5,143.6 L123.2,144.5 L124.0,147.2 L124.8,150.1 L125.5,151.8 L126.2,153.1 L127.0,154.2 L127.8,154.2 L128.5,154.1 L129.2,155.5 L130.0,158.2 L130.8,160.3 L131.5,161.7 L132.2,162.9 L133.0,163.5 L133.8,163.4 L134.5,163.9 L135.2,166.1 L136.0,168.6 L136.8,170.3 L137.5,171.6 L138.2,172.7 L139.0,173.0 L139.8,173.1 L140.5,174.3 L141.2,176.6 L142.0,178.7 L142.8,180.1 L143.5,181.2 L144.2,181.9 L145.0,182.0 L145.8,182.4 L146.5,184.1 L147.2,186.3 L148.0,188.0 L148.8,189.1 L149.5,190.1 L150.2,190.5 L151.0,190.5 L151.8,191.5 L152.5,193.4 L153.2,195.4 L154.0,196.8 L154.8,197.8 L155.5,198.5 L156.2,198.7 L157.0,199.1 L157.8,200.6 L158.5,202.6 L159.2,204.2 L160.0,205.4 L160.8,206.4 L161.5,206.9 L162.2,207.2 L163.0,208.1 L163.8,209.9 L164.5,211.7 L165.2,212.9 L166.0,213.8 L166.8,214.4 L167.5,214.7 L168.2,215.0 L169.0,216.3 L169.8,218.1 L170.5,219.5 L171.2,220.4 L172.0,221.2 L172.8,221.6 L173.5,221.7 L174.2,222.3 L175.0,224.0 L175.8,225.6 L176.5,226.7 L177.2,227.7 L178.0,228.5 L178.8,228.7 L179.5,229.0 L180.2,230.1 L181.0,231.6 L181.8,232.9 L182.5,233.8 L183.2,234.5 L184.0,235.0 L184.8,235.2 L185.5,235.7 L186.2,237.1 L187.0,238.7 L187.8,239.7 L188.5,240.3 L189.2,241.0 L190.0,241.2 L190.8,241.5 L191.5,242.4 L192.2,244.0 L193.0,245.3 L193.8,246.2 L194.5,246.9 L195.2,247.4 L196.0,247.5 L196.8,247.9 L197.5,249.1 L198.2,250.4 L199.0,251.4 L199.8,252.1 L200.5,252.6 L201.2,252.7 L202.0,252.9 L202.8,253.4 L203.5,254.6 L204.2,255.8 L205.0,256.6 L205.8,257.1 L206.5,257.6 L207.2,257.6 L208.0,257.8 L208.8,258.7 L209.5,259.8 L210.2,260.6 L211.0,261.3 L211.8,261.8 L212.5,262.0 L213.2,262.0 L214.0,262.6 L214.8,263.6 L215.5,264.6 L216.2,265.2 L217.0,265.8 L217.8,266.2 L218.5,266.3 L219.2,266.4 L220.0,267.3 L220.8,268.4 L221.5,269.1 L222.2,269.7 L223.0,270.1 L223.8,270.3 L224.5,270.2 L225.2,270.7 L226.0,271.5 L226.8,272.4 L227.5,273.0 L228.2,273.4 L229.0,273.5 L229.8,273.6 L230.5,273.6 L231.2,274.2 L232.0,275.1 L232.8,275.8 L233.5,276.2 L234.2,276.5 L235.0,276.6 L235.8,276.5 L236.5,276.7 L237.2,277.5 L238.0,278.3 L238.8,278.9 L239.5,279.4 L240.2,279.8 L241.0,280.1 L241.8,280.1 L242.5,280.6 L243.2,281.6 L244.0,282.4 L244.8,282.9 L245.5,283.5 L246.2,283.8 L247.0,283.8 L247.8,284.0 L248.5,284.8 L249.2,285.6 L250.0,286.2 L250.8,286.7 L251.5,287.0 L252.2,287.2 L253.0,287.2 L253.8,287.7 L254.5,288.6 L255.2,289.3 L256.0,289.7 L256.8,290.2 L257.5,290.4 L258.2,290.5 L259.0,290.7 L259.8,291.5 L260.5,292.2 L261.2,292.8 L262.0,293.1 L262.8,293.5 L263.5,293.6 L264.2,293.5 L265.0,293.8 L265.8,294.6 L266.5,295.3 L267.2,295.7 L268.0,296.2 L268.8,296.4 L269.5,296.4 L270.2,296.5 L271.0,297.0 L271.8,297.7 L272.5,298.2 L273.2,298.5 L274.0,298.9 L274.8,298.9 L275.5,298.8 L276.2,299.2 L277.0,299.7 L277.8,300.2 L278.5,300.5 L279.2,300.7 L280.0,300.8 L280.8,300.9 L281.5,300.9 L282.2,301.4 L283.0,302.0 L283.8,302.5 L284.5,302.8 L285.2,303.1 L286.0,303.2 L286.8,303.1 L287.5,303.4 L288.2,303.9 L289.0,304.4 L289.8,304.7 L290.5,305.0 L291.2,305.1 L292.0,305.2 L292.8,305.3 L293.5,305.7 L294.2,306.4 L295.0,306.9 L295.8,307.0 L296.5,307.2 L297.2,307.1 L298.0,306.9 L298.8,307.0 L299.5,307.4 L300.2,307.8 L301.0,308.2 L301.8,308.3 L302.5,308.5 L303.2,308.5 L304.0,308.5 L304.8,308.7 L305.5,309.4 L306.2,309.6 L307.0,309.9 L307.8,310.1 L308.5,310.2 L309.2,310.1 L310.0,310.4 L310.8,310.8 L311.5,311.3 L312.2,311.7 L313.0,312.0 L313.8,312.0 L314.5,312.2 L315.2,312.2 L316.0,312.6 L316.8,313.2 L317.5,313.8 L318.2,314.1 L319.0,314.4 L319.8,314.5 L320.5,314.5 L321.2,314.7 L322.0,315.2 L322.8,315.7 L323.5,316.3 L324.2,316.6 L325.0,316.6 L325.8,316.7 L326.5,316.7 L327.2,316.8 L328.0,317.3 L328.8,317.8 L329.5,317.9 L330.2,318.1 L331.0,318.2 L331.8,318.4 L332.5,318.4 L333.2,318.9 L334.0,319.5 L334.8,320.0 L335.5,320.0 L336.2,320.3 L337.0,320.3 L337.8,320.2 L338.5,320.2 L339.2,320.7 L340.0,321.1 L340.8,321.2 L341.5,321.5 L342.2,321.9 L343.0,322.0 L343.8,322.1 L344.5,322.6 L345.2,323.0 L346.0,323.2 L346.8,323.1 L347.5,323.2 L348.2,323.2 L349.0,323.3 L349.8,323.4 L350.5,323.9 L351.2,324.3 L352.0,324.4 L352.8,324.5 L353.5,324.8 L354.2,324.7 L355.0,324.6 L355.8,325.0 L356.5,325.5 L357.2,325.8 L358.0,326.1 L358.8,326.3 L359.5,326.2 L360.2,326.0 L361.0,326.1 L361.8,326.4 L362.5,326.7 L363.2,326.9 L364.0,327.2 L364.8,327.2 L365.5,327.1 L366.2,327.1 L367.0,327.4 L367.8,327.9 L368.5,328.2 L369.2,328.3 L370.0,328.4 L370.8,328.5 L371.5,328.3 L372.2,328.3 L373.0,328.9 L373.8,329.2 L374.5,329.5 L375.2,329.9 L376.0,330.0 L376.8,329.9 L377.5,329.9 L378.2,329.9 L379.0,330.1 L379.8,330.5 L380.5,330.7 L381.2,331.1 L382.0,331.2 L382.8,331.1 L383.5,331.0 L384.2,331.2 L385.0,331.6 L385.8,331.9 L386.5,332.2 L387.2,332.5 L388.0,332.4 L388.8,332.2 L389.5,332.1 L390.2,332.6 L391.0,332.9 L391.8,333.2 L392.5,333.5 L393.2,333.5 L394.0,333.1 L394.8,333.1 L395.5,333.2 L396.2,333.4 L397.0,333.6 L397.8,333.5 L398.5,333.5 L399.2,333.4 L400.0,333.5 L400.8,333.6 L401.5,333.7 L402.2,334.0 L403.0,334.1 L403.8,334.0 L404.5,334.2 L405.2,334.4 L406.0,334.4 L406.8,334.7 L407.5,334.9 L408.2,335.0 L409.0,335.3 L409.8,335.5 L410.5,335.6 L411.2,336.0 L412.0,336.3 L412.8,336.8 L413.5,337.3 L414.2,337.6 L415.0,337.6 L415.8,337.7 L416.5,337.5 L417.2,337.6 L418.0,338.1 L418.8,338.6 L419.5,339.1 L420.2,339.4 L421.0,339.5 L421.8,339.5 L422.5,339.4 L423.2,339.3 L424.0,339.5 L424.8,340.0 L425.5,340.4 L426.2,340.6 L427.0,340.6 L427.8,340.9 L428.5,340.7 L429.2,340.8 L430.0,341.1 L430.8,341.5 L431.5,341.6 L432.2,341.8 L433.0,341.8 L433.8,341.9 L434.5,342.0 L435.2,342.3 L436.0,342.7 L436.8,343.1 L437.5,343.1 L438.2,343.4 L439.0,343.5 L439.8,343.5 L440.5,343.4 L441.2,343.9 L442.0,344.3 L442.8,344.4 L443.5,344.7 L444.2,345.0 L445.0,345.0 L445.8,345.0 L446.5,345.1 L447.2,345.6 L448.0,345.8 L448.8,346.0 L449.5,346.2 L450.2,346.2 L451.0,346.0 L451.8,346.0 L452.5,346.3 L453.2,346.3 L454.0,346.6 L454.8,346.9 L455.5,346.8 L456.2,346.7 L457.0,346.8 L457.8,347.2 L458.5,347.3 L459.2,347.7 L460.0,347.7 L460.8,347.7 L461.5,347.6 L462.2,347.4 L463.0,347.5 L463.8,347.9 L464.5,348.3 L465.2,348.1 L466.0,348.1 L466.8,347.9 L467.5,347.8 L468.2,347.5 L469.0,347.7 L469.8,348.1 L470.5,348.3 L471.2,348.3 L472.0,348.4 L472.8,348.3 L473.5,348.2 L474.2,348.3 L475.0,348.7 L475.8,349.2 L476.5,349.5 L477.2,349.5 L478.0,349.4 L478.8,349.2 L479.5,348.8 L480.2,348.7 L481.0,349.1 L481.8,349.1 L482.5,349.1 L483.2,349.0 L484.0,348.9 L484.8,348.6 L485.5,348.9 L486.2,349.0 L487.0,349.4 L487.8,349.6 L488.5,349.9 L489.2,349.9 L490.0,349.9 L490.8,349.8 L491.5,349.8 L492.2,350.0 L493.0,350.3 L493.8,350.3 L494.5,350.3 L495.2,350.5 L496.0,350.4 L496.8,350.2 L497.5,350.2 L498.2,350.5 L499.0,350.6 L499.8,350.5 L500.5,350.7 L501.2,351.0 L502.0,351.0 L502.8,351.0 L503.5,351.3 L504.2,351.4 L505.0,351.5 L505.8,351.4 L506.5,351.6 L507.2,351.4 L508.0,351.3 L508.8,351.3 L509.5,351.4 L510.2,351.4 L511.0,351.5 L511.8,351.7 L512.5,351.8 L513.2,351.9 L514.0,352.0 L514.8,352.3 L515.5,352.5 L516.2,352.3 L517.0,352.4 L517.8,352.7 L518.5,352.4 L519.2,352.2 L520.0,352.6 L520.8,352.8 L521.5,352.7 L522.2,353.0 L523.0,353.2 L523.8,353.2 L524.5,353.2 L525.2,353.4 L526.0,353.8 L526.8,354.1 L527.5,354.3 L528.2,354.4 L529.0,354.3 L529.8,354.3 L530.5,354.2 L531.2,354.3 L532.0,354.6 L532.8,354.6 L533.5,354.7 L534.2,354.7 L535.0,354.6 L535.8,354.2 L536.5,354.1 L537.2,354.4 L538.0,354.4 L538.8,354.7 L539.5,354.9 L540.2,355.1 L541.0,354.9 L541.8,355.1 L542.5,354.9 L543.2,355.2 L544.0,355.3 L544.8,355.2 L545.5,355.2 L546.2,355.4 L547.0,355.0 L547.8,354.9 L548.5,355.5 L549.2,355.9 L550.0,356.0 L550.8,356.4 L551.5,356.4 L552.2,356.2 L553.0,355.9 L553.8,355.8 L554.5,356.1 L555.2,356.4 L556.0,356.5 L556.8,356.5 L557.5,356.6 L558.2,356.4 L559.0,356.3 L559.8,356.5 L560.5,356.8 L561.2,356.7 L562.0,356.6 L562.8,356.6 L563.5,356.5 L564.2,356.4 L565.0,356.4 L565.8,356.7 L566.5,356.7 L567.2,356.3 L568.0,356.0 L568.8,355.8 L569.5,355.6 L570.2,355.5 L571.0,355.7 L571.8,355.8 L572.5,356.2 L573.2,356.0 L574.0,356.1 L574.8,356.1 L575.5,355.9 L576.2,355.8 L577.0,356.1 L577.8,356.3 L578.5,356.2 L579.2,356.4 L580.0,356.3 L580.8,356.2 L581.5,356.0 L582.2,356.2 L583.0,356.3 L583.8,356.6 L584.5,356.4 L585.2,356.4 L586.0,356.2 L586.8,356.3 L587.5,356.2 L588.2,356.6 L589.0,356.8 L589.8,356.7 L590.5,356.8 L591.2,356.9 L592.0,356.7 L592.8,356.5 L593.5,356.7 L594.2,356.9 L595.0,356.9 L595.8,356.6 L596.5,356.7 L597.2,356.6 L598.0,356.6 L598.8,356.5 L599.5,357.0 L600.2,357.3 L601.0,357.4 L601.8,357.2 L602.5,357.4 L603.2,357.0 L604.0,356.8 L604.8,356.9 L605.5,357.3 L606.2,357.5 L607.0,357.8 L607.8,357.9 L608.5,357.8 L609.2,357.7 L610.0,357.5 L610.8,357.7 L611.5,358.0 L612.2,358.4 L613.0,358.4 L613.8,358.4 L614.5,358.5 L615.2,358.4 L616.0,358.4 L616.8,358.6 L617.5,358.9 L618.2,358.8 L619.0,358.6 L619.8,358.6 L620.5,358.4 L621.2,358.1 L622.0,358.4 L622.8,359.1 L623.5,359.1 L624.2,359.3 L625.0,359.5 L625.8,359.3 L626.5,359.1 L627.2,359.3 L628.0,359.7 L628.8,359.8 L629.5,359.8 L630.2,359.7 L631.0,359.8 L631.8,359.6 L632.5,359.7 L633.2,360.1 L634.0,360.1 L634.8,360.3 L635.5,360.2 L636.2,360.2 L637.0,359.8 L637.8,359.7 L638.5,359.8 L639.2,360.1 L640.0,360.2 L640.8,360.5 L641.5,360.7 L642.2,360.6 L643.0,360.7 L643.8,360.7 L644.5,360.7 L645.2,360.9 L646.0,361.0 L646.8,360.9 L647.5,360.7 L648.2,360.7 L649.0,360.5 L649.8,360.7 L650.5,361.1 L651.2,361.5 L652.0,361.6 L652.8,361.7 L653.5,361.5 L654.2,361.3 L655.0,360.9 L655.8,361.1 L656.5,361.4 L657.2,361.6 L658.0,361.6" stroke="#ff00ff"/>
<path d="M92.0,79.6 L94.0,79.2 L97.0,79.0 L98.0,79.1 L98.8,79.1 L99.5,79.1 L100.2,79.1 L101.0,79.1 L101.8,79.2 L102.5,79.2 L103.2,79.3 L104.0,79.3 L104.8,79.3 L105.5,79.3 L106.2,79.4 L107.0,79.4 L107.8,79.5 L108.5,79.4 L109.2,79.5 L110.0,79.5 L110.8,79.5 L111.5,79.5 L112.2,79.7 L113.0,79.6 L113.8,79.6 L114.5,79.6 L115.2,79.6 L116.0,79.6 L116.8,79.7 L117.5,79.7 L118.2,79.7 L119.0,79.9 L119.8,79.8 L120.5,79.7 L121.2,79.8 L122.0,79.8 L122.8,79.7 L123.5,79.7 L124.2,79.7 L125.0,79.7 L125.8,79.7 L126.5,79.7 L127.2,79.7 L128.0,79.7 L128.8,79.7 L129.5,79.6 L130.2,79.5 L131.0,79.4 L131.8,79.4 L132.5,79.3 L133.2,79.3 L134.0,79.3 L134.8,79.4 L135.5,79.5 L136.2,79.7 L137.0,79.8 L137.8,80.0 L138.5,80.1 L139.2,80.3 L140.0,80.4 L140.8,80.7 L141.5,81.2 L142.2,81.8 L143.0,82.4 L143.8,83.0 L144.5,83.4 L145.2,83.5 L146.0,83.8 L146.8,84.7 L147.5,85.8 L148.2,86.5 L149.0,87.1 L149.8,87.7 L150.5,87.6 L151.2,87.6 L152.0,88.4 L152.8,89.8 L153.5,91.0 L154.2,91.8 L155.0,92.6 L155.8,92.8 L156.5,92.6 L157.2,93.0 L158.0,94.6 L158.8,96.1 L159.5,97.2 L160.2,97.8 L161.0,98.2 L161.8,98.0 L162.5,97.8 L163.2,98.4 L164.0,99.8 L164.8,100.9 L165.5,101.6 L166.2,102.1 L167.0,102.5 L167.8,102.3 L168.5,102.6 L169.2,103.9 L170.0,105.3 L170.8,106.2 L171.5,106.7 L172.2,107.1 L173.0,107.1 L173.8,107.1 L174.5,107.7 L175.2,109.2 L176.0,110.4 L176.8,111.1 L177.5,111.7 L178.2,112.0 L179.0,111.8 L179.8,111.9 L180.5,112.9 L181.2,114.3 L182.0,115.1 L182.8,115.8 L183.5,116.3 L184.2,116.4 L185.0,116.2 L185.8,116.6 L186.5,117.8 L187.2,118.7 L188.0,119.3 L188.8,119.8 L189.5,120.1 L190.2,119.8 L191.0,119.7 L191.8,120.4 L192.5,121.3 L193.2,121.7 L194.0,122.0 L194.8,122.1 L195.5,121.8 L196.2,121.5 L197.0,121.6 L197.8,122.3 L198.5,123.0 L199.2,123.3 L200.0,123.4 L200.8,123.4 L201.5,123.1 L202.2,122.8 L203.0,123.2 L203.8,124.0 L204.5,124.5 L205.2,124.7 L206.0,124.9 L206.8,124.9 L207.5,124.5 L208.2,124.6 L209.0,125.4 L209.8,126.3 L210.5,126.7 L211.2,127.1 L212.0,127.2 L212.8,127.1 L213.5,126.8 L214.2,127.4 L215.0,128.3 L215.8,128.9 L216.5,129.2 L217.2,129.5 L218.0,129.6 L218.8,129.4 L219.5,129.6 L220.2,130.6 L221.0,131.5 L221.8,132.0 L222.5,132.3 L223.2,132.6 L224.0,132.7 L224.8,132.8 L225.5,133.4 L226.2,134.5 L227.0,135.5 L227.8,136.0 L228.5,136.6 L229.2,137.0 L230.0,137.2 L230.8,137.5 L231.5,138.4 L232.2,139.4 L233.0,140.2 L233.8,140.9 L234.5,141.5 L235.2,141.7 L236.0,141.9 L236.8,142.6 L237.5,143.6 L238.2,144.5 L239.0,145.1 L239.8,145.7 L240.5,146.0 L241.2,146.2 L242.0,146.5 L242.8,147.3 L243.5,148.2 L244.2,148.8 L245.0,149.3 L245.8,149.6 L246.5,149.7 L247.2,149.7 L248.0,150.1 L248.8,151.0 L249.5,151.8 L250.2,152.2 L251.0,152.7 L251.8,153.0 L252.5,153.1 L253.2,153.1 L254.0,153.9 L254.8,154.7 L255.5,155.3 L256.2,155.8 L257.0,156.4 L257.8,156.5 L258.5,156.5 L259.2,156.8 L260.0,157.5 L260.8,158.1 L261.5,158.5 L262.2,158.8 L263.0,159.0 L263.8,158.9 L264.5,158.8 L265.2,159.2 L266.0,160.0 L266.8,160.4 L267.5,160.8 L268.2,161.0 L269.0,161.1 L269.8,160.8 L270.5,161.0 L271.2,161.5 L272.0,162.2 L272.8,162.5 L273.5,162.9 L274.2,163.1 L275.0,163.0 L275.8,163.0 L276.5,163.3 L277.2,163.7 L278.0,164.0 L278.8,164.1 L279.5,164.3 L280.2,164.4 L281.0,164.2 L281.8,164.4 L282.5,164.9 L283.2,165.5 L284.0,165.8 L284.8,166.2 L285.5,166.3 L286.2,166.4 L287.0,166.4 L287.8,166.9 L288.5,167.5 L289.2,168.1 L290.0,168.4 L290.8,168.6 L291.5,168.5 L292.2,168.3 L293.0,168.3 L293.8,168.8 L294.5,169.4 L295.2,170.0 L296.0,170.3 L296.8,170.6 L297.5,170.7 L298.2,170.6 L299.0,170.7 L299.8,171.4 L300.5,172.0 L301.2,172.3 L302.0,172.7 L302.8,173.1 L303.5,173.3 L304.2,173.3 L305.0,173.9 L305.8,174.7 L306.5,175.0 L307.2,175.4 L308.0,175.9 L308.8,176.0 L309.5,176.1 L310.2,176.5 L311.0,177.4 L311.8,178.0 L312.5,178.5 L313.2,178.8 L314.0,179.2 L314.8,179.2 L315.5,179.4 L316.2,179.9 L317.0,180.7 L317.8,181.3 L318.5,181.7 L319.2,182.2 L320.0,182.4 L320.8,182.5 L321.5,182.9 L322.2,183.6 L323.0,184.4 L323.8,185.0 L324.5,185.5 L325.2,185.8 L326.0,185.9 L326.8,186.0 L327.5,186.6 L328.2,187.5 L329.0,188.2 L329.8,188.7 L330.5,189.2 L331.2,189.6 L332.0,189.7 L332.8,190.1 L333.5,190.8 L334.2,191.3 L335.0,191.7 L335.8,192.2 L336.5,192.4 L337.2,192.7 L338.0,192.9 L338.8,193.4 L339.5,194.0 L340.2,194.6 L341.0,194.8 L341.8,195.1 L342.5,195.3 L343.2,195.4 L344.0,195.4 L344.8,195.9 L345.5,196.3 L346.2,196.5 L347.0,196.5 L347.8,196.7 L348.5,196.6 L349.2,196.6 L350.0,196.8 L350.8,197.3 L351.5,197.6 L352.2,197.7 L353.0,197.9 L353.8,197.9 L354.5,197.8 L355.2,197.8 L356.0,198.2 L356.8,198.4 L357.5,198.6 L358.2,198.9 L359.0,198.8 L359.8,198.7 L360.5,198.7 L361.2,198.8 L362.0,199.1 L362.8,199.6 L363.5,199.8 L364.2,199.9 L365.0,200.0 L365.8,199.9 L366.5,200.0 L367.2,200.4 L368.0,200.8 L368.8,201.3 L369.5,201.5 L370.2,201.6 L371.0,201.8 L371.8,201.9 L372.5,202.2 L373.2,202.7 L374.0,203.1 L374.8,203.4 L375.5,203.5 L376.2,203.7 L377.0,203.7 L377.8,203.8 L378.5,204.1 L379.2,204.7 L380.0,205.0 L380.8,205.3 L381.5,205.4 L382.2,205.6 L383.0,205.7 L383.8,206.0 L384.5,206.6 L385.2,207.3 L386.0,207.5 L386.8,207.8 L387.5,208.2 L388.2,208.2 L389.0,208.4 L389.8,208.8 L390.5,209.3 L391.2,209.9 L392.0,210.2 L392.8,210.5 L393.5,210.7 L394.2,210.7 L395.0,210.6 L395.8,211.0 L396.5,211.4 L397.2,211.9 L398.0,212.2 L398.8,212.4 L399.5,212.5 L400.2,212.7 L401.0,212.9 L401.8,213.6 L402.5,214.0 L403.2,214.5 L404.0,214.7 L404.8,214.8 L405.5,214.6 L406.2,214.8 L407.0,215.3 L407.8,216.0 L408.5,216.5 L409.2,216.9 L410.0,217.3 L410.8,217.5 L411.5,217.4 L412.2,217.7 L413.0,218.3 L413.8,218.6 L414.5,218.8 L415.2,219.3 L416.0,219.4 L416.8,219.5 L417.5,219.6 L418.2,220.1 L419.0,220.6 L419.8,221.0 L420.5,221.2 L421.2,221.6 L422.0,222.0 L422.8,221.9 L423.5,222.2 L424.2,222.8 L425.0,223.3 L425.8,223.6 L426.5,223.9 L427.2,224.2 L428.0,224.3 L428.8,224.3 L429.5,224.6 L430.2,225.1 L431.0,225.3 L431.8,225.4 L432.5,225.9 L433.2,226.1 L434.0,226.1 L434.8,226.6 L435.5,227.1 L436.2,227.5 L437.0,227.8 L437.8,228.3 L438.5,228.4 L439.2,228.4 L440.0,228.6 L440.8,229.0 L441.5,229.3 L442.2,229.6 L443.0,230.0 L443.8,230.0 L444.5,229.8 L445.2,229.9 L446.0,230.3 L446.8,230.6 L447.5,231.2 L448.2,231.7 L449.0,231.8 L449.8,232.0 L450.5,232.0 L451.2,232.0 L452.0,232.2 L452.8,232.7 L453.5,232.9 L454.2,233.1 L455.0,233.5 L455.8,233.6 L456.5,233.8 L457.2,234.0 L458.0,234.6 L458.8,235.0 L459.5,235.2 L460.2,235.3 L461.0,235.4 L461.8,235.2 L462.5,235.3 L463.2,235.8 L464.0,236.3 L464.8,236.9 L465.5,237.4 L466.2,237.3 L467.0,237.3 L467.8,237.3 L468.5,237.2 L469.2,237.5 L470.0,238.0 L470.8,238.4 L471.5,238.8 L472.2,238.9 L473.0,238.9 L473.8,238.9 L474.5,239.1 L475.2,239.3 L476.0,239.7 L476.8,240.2 L477.5,240.5 L478.2,240.8 L479.0,240.9 L479.8,240.9 L480.5,241.2 L481.2,241.3 L482.0,241.6 L482.8,242.1 L483.5,242.4 L484.2,242.3 L485.0,242.6 L485.8,242.8 L486.5,243.1 L487.2,243.4 L488.0,243.5 L488.8,243.5 L489.5,243.7 L490.2,243.7 L491.0,243.5 L491.8,243.8 L492.5,244.2 L493.2,244.4 L494.0,244.5 L494.8,245.0 L495.5,245.1 L496.2,245.3 L497.0,245.6 L497.8,245.9 L498.5,246.4 L499.2,246.7 L500.0,247.0 L500.8,246.9 L501.5,247.0 L502.2,247.0 L503.0,247.4 L503.8,247.6 L504.5,248.0 L505.2,248.0 L506.0,248.1 L506.8,248.0 L507.5,248.1 L508.2,248.1 L509.0,248.8 L509.8,249.2 L510.5,249.5 L511.2,249.7 L512.0,249.6 L512.8,249.5 L513.5,249.3 L514.2,249.8 L515.0,249.9 L515.8,250.3 L516.5,250.5 L517.2,250.8 L518.0,250.5 L518.8,250.6 L519.5,250.7 L520.2,250.9 L521.0,251.2 L521.8,251.5 L522.5,251.7 L523.2,252.0 L524.0,252.0 L524.8,252.2 L525.5,252.1 L526.2,252.7 L527.0,253.0 L527.8,253.3 L528.5,253.4 L529.2,253.7 L530.0,253.5 L530.8,253.5 L531.5,253.8 L532.2,254.2 L533.0,254.5 L533.8,255.1 L534.5,255.2 L535.2,255.2 L536.0,255.2 L536.8,255.5 L537.5,255.7 L538.2,256.2 L539.0,256.6 L539.8,256.6 L540.5,257.0 L541.2,257.2 L542.0,257.4 L542.8,257.6 L543.5,258.3 L544.2,258.4 L545.0,258.5 L545.8,258.6 L546.5,258.6 L547.2,258.8 L548.0,259.0 L548.8,259.5 L549.5,260.1 L550.2,260.4 L551.0,260.6 L551.8,260.6 L552.5,260.4 L553.2,260.3 L554.0,260.6 L554.8,261.0 L555.5,261.5 L556.2,262.0 L557.0,262.4 L557.8,262.6 L558.5,262.5 L559.2,262.7 L560.0,263.1 L560.8,263.3 L561.5,263.6 L562.2,263.8 L563.0,264.0 L563.8,264.0 L564.5,264.2 L565.2,264.5 L566.0,265.1 L566.8,265.4 L567.5,265.8 L568.2,266.1 L569.0,266.0 L569.8,266.1 L570.5,266.1 L571.2,266.3 L572.0,266.7 L572.8,267.0 L573.5,267.0 L574.2,267.3 L575.0,267.4 L575.8,267.2 L576.5,267.4 L577.2,268.0 L578.0,268.6 L578.8,268.5 L579.5,268.7 L580.2,269.0 L581.0,268.7 L581.8,268.5 L582.5,269.0 L583.2,269.4 L584.0,269.5 L584.8,269.4 L585.5,269.5 L586.2,269.4 L587.0,269.5 L587.8,269.6 L588.5,270.2 L589.2,270.5 L590.0,270.7 L590.8,270.8 L591.5,271.0 L592.2,270.7 L593.0,270.9 L593.8,271.1 L594.5,271.4 L595.2,271.4 L596.0,271.9 L596.8,271.9 L597.5,272.0 L598.2,271.9 L599.0,272.4 L599.8,272.8 L600.5,272.9 L601.2,273.1 L602.0,273.3 L602.8,273.3 L603.5,273.0 L604.2,273.2 L605.0,273.5 L605.8,273.9 L606.5,274.0 L607.2,274.4 L608.0,274.7 L608.8,274.9 L609.5,274.9 L610.2,275.4 L611.0,275.7 L611.8,275.6 L612.5,275.7 L613.2,275.9 L614.0,275.9 L614.8,275.8 L615.5,275.9 L616.2,276.1 L617.0,276.6 L617.8,276.9 L618.5,277.0 L619.2,277.3 L620.0,277.5 L620.8,277.4 L621.5,277.7 L622.2,278.5 L623.0,279.0 L623.8,279.1 L624.5,279.1 L625.2,278.9 L626.0,278.6 L626.8,278.4 L627.5,278.6 L628.2,278.9 L629.0,279.2 L629.8,279.4 L630.5,279.6 L631.2,279.7 L632.0,279.7 L632.8,279.8 L633.5,280.3 L634.2,280.8 L635.0,281.1 L635.8,281.2 L636.5,281.6 L637.2,281.5 L638.0,281.4 L638.8,281.5 L639.5,282.1 L640.2,282.4 L641.0,282.6 L641.8,282.6 L642.5,282.9 L643.2,282.9 L644.0,282.6 L644.8,282.8 L645.5,283.5 L646.2,283.6 L647.0,283.8 L647.8,284.1 L648.5,284.2 L649.2,284.2 L650.0,284.7 L650.8,285.0 L651.5,285.5 L652.2,285.7 L653.0,285.7 L653.8,285.6 L654.5,285.9 L655.2,286.0 L656.0,286.4 L656.8,286.7 L657.5,287.1" stroke="#00ffff"/>
<path d="M92.2,79.6 L93.7,79.2 L94.5,54.0 L95.6,66.0 L97.0,80.5 L99.8,75.3 L100.3,76.9 L101.0,79.2 L101.8,81.4 L102.5,83.6 L103.3,85.5 L104.0,87.5 L104.8,89.3 L105.5,91.1 L106.3,94.3 L107.0,99.5 L107.8,104.8 L108.5,109.1 L109.3,112.8 L110.0,115.8 L110.8,116.8 L111.5,117.3 L112.3,119.7 L113.0,123.7 L113.8,127.1 L114.5,129.4 L115.3,131.6 L116.0,133.3 L116.8,134.2 L117.5,136.1 L118.3,140.3 L119.0,144.9 L119.8,148.0 L120.5,150.3 L121.3,152.2 L122.0,152.9 L122.8,153.1 L123.5,155.0 L124.3,158.1 L125.0,160.8 L125.8,162.4 L126.5,163.9 L127.3,164.7 L128.1,164.7 L128.8,165.5 L129.6,168.1 L130.3,171.7 L131.1,174.9 L131.8,177.4 L132.6,179.5 L133.3,180.5 L134.1,181.0 L134.8,182.6 L135.6,185.4 L136.3,188.0 L137.1,189.5 L137.8,190.9 L138.6,191.9 L139.3,192.1 L140.1,192.7 L140.8,194.6 L141.6,197.1 L142.3,198.9 L143.1,200.1 L143.8,201.2 L144.6,201.8 L145.3,201.9 L146.1,202.9 L146.8,205.1 L147.6,207.1 L148.3,208.5 L149.1,209.6 L149.8,210.5 L150.6,210.8 L151.3,211.2 L152.1,212.7 L152.8,214.9 L153.6,216.5 L154.3,217.6 L155.1,218.6 L155.8,219.0 L156.6,219.2 L157.3,219.9 L158.1,221.7 L158.8,223.6 L159.6,224.8 L160.3,225.8 L161.1,226.7 L161.8,226.9 L162.6,227.2 L163.3,228.6 L164.1,230.6 L164.8,232.1 L165.6,233.1 L166.3,234.1 L167.1,234.5 L167.8,234.5 L168.6,235.1 L169.3,236.8 L170.1,238.6 L170.8,239.8 L171.6,240.9 L172.3,241.8 L173.1,242.1 L173.8,242.4 L174.6,243.6 L175.3,245.4 L176.1,246.9 L176.8,247.9 L177.6,248.8 L178.3,249.4 L179.1,249.5 L179.8,250.1 L180.6,251.5 L181.3,253.1 L182.1,254.0 L182.8,254.8 L183.6,255.4 L184.3,255.7 L185.1,255.7 L185.8,256.5 L186.6,257.9 L187.3,259.0 L188.1,259.8 L188.8,260.4 L189.6,260.8 L190.3,260.7 L191.1,261.0 L191.8,262.0 L192.6,263.4 L193.3,264.3 L194.1,265.1 L194.8,265.6 L195.6,265.8 L196.3,265.7 L197.1,266.2 L197.8,267.3 L198.6,268.4 L199.3,269.0 L200.1,269.5 L200.8,270.0 L201.6,270.0 L202.3,270.3 L203.1,271.2 L203.8,272.4 L204.6,273.4 L205.3,273.9 L206.1,274.4 L206.8,274.6 L207.6,274.7 L208.3,275.1 L209.1,276.3 L209.8,277.3 L210.6,278.0 L211.3,278.4 L212.1,278.7 L212.8,278.6 L213.6,278.7 L214.3,279.4 L215.1,280.5 L215.8,281.3 L216.6,281.9 L217.3,282.3 L218.1,282.4 L218.8,282.3 L219.6,282.6 L220.3,283.4 L221.1,284.3 L221.8,284.9 L222.6,285.4 L223.3,285.6 L224.1,285.6 L224.8,285.7 L225.6,286.2 L226.3,287.1 L227.1,287.9 L227.8,288.2 L228.6,288.4 L229.3,288.5 L230.1,288.3 L230.8,288.4 L231.6,289.2 L232.3,290.1 L233.1,290.5 L233.8,290.9 L234.6,291.2 L235.3,291.1 L236.1,291.1 L236.8,291.7 L237.6,292.4 L238.3,293.1 L239.1,293.6 L239.8,294.0 L240.6,294.1 L241.3,294.3 L242.1,294.6 L242.8,295.4 L243.6,296.4 L244.3,297.0 L245.1,297.4 L245.8,297.7 L246.6,297.9 L247.3,297.9 L248.1,298.5 L248.8,299.4 L249.6,300.1 L250.3,300.6 L251.1,301.1 L251.8,301.5 L252.6,301.4 L253.3,301.6 L254.1,302.4 L254.8,303.3 L255.6,303.8 L256.3,304.4 L257.1,304.8 L257.8,304.9 L258.6,304.8 L259.3,305.2 L260.1,305.9 L260.8,306.5 L261.6,307.0 L262.3,307.4 L263.1,307.6 L263.8,307.6 L264.6,307.6 L265.3,308.1 L266.1,308.7 L266.8,309.2 L267.6,309.4 L268.3,309.6 L269.1,309.6 L269.8,309.5 L270.6,309.5 L271.3,310.1 L272.1,310.7 L272.8,311.1 L273.6,311.2 L274.3,311.4 L275.1,311.4 L275.8,311.3 L276.6,311.6 L277.3,312.2 L278.1,312.6 L278.8,312.9 L279.6,313.1 L280.3,313.2 L281.1,313.1 L281.8,313.3 L282.6,313.7 L283.3,314.1 L284.1,314.5 L284.8,314.7 L285.6,314.8 L286.3,314.8 L287.1,314.7 L287.8,315.0 L288.6,315.5 L289.3,315.9 L290.1,316.2 L290.8,316.5 L291.6,316.4 L292.3,316.2 L293.1,316.2 L293.8,316.6 L294.6,317.1 L295.3,317.4 L296.1,317.7 L296.8,318.0 L297.6,317.8 L298.3,317.6 L299.1,317.7 L299.8,318.0 L300.6,318.3 L301.3,318.4 L302.1,318.5 L302.8,318.5 L303.6,318.5 L304.3,318.5 L305.1,318.8 L305.8,319.3 L306.6,319.6 L307.3,319.6 L308.1,319.7 L308.8,319.6 L309.6,319.4 L310.3,319.7 L311.1,320.3 L311.8,320.8 L312.6,321.2 L313.3,321.5 L314.1,321.7 L314.8,321.7 L315.6,321.9 L316.3,322.4 L317.1,323.0 L317.8,323.4 L318.6,323.7 L319.3,324.0 L320.1,323.9 L320.8,323.8 L321.6,324.2 L322.3,324.9 L323.1,325.3 L323.8,325.8 L324.6,326.2 L325.3,326.4 L326.1,326.4 L326.8,326.6 L327.6,327.0 L328.3,327.6 L329.1,327.9 L329.8,328.2 L330.6,328.5 L331.3,328.6 L332.1,328.7 L332.8,329.0 L333.6,329.4 L334.3,329.9 L335.1,330.3 L335.8,330.5 L336.6,330.7 L337.3,330.9 L338.1,331.0 L338.8,331.4 L339.6,331.9 L340.3,332.2 L341.1,332.3 L341.8,332.3 L342.6,332.4 L343.3,332.2 L344.1,332.3 L344.8,332.6 L345.6,333.1 L346.3,333.3 L347.1,333.5 L347.8,333.4 L348.6,333.2 L349.3,332.9 L350.1,332.9 L350.8,333.2 L351.6,333.5 L352.3,333.5 L353.1,333.7 L353.8,333.6 L354.6,333.3 L355.3,333.2 L356.1,333.5 L356.8,333.8 L357.6,333.9 L358.3,333.9 L359.1,334.1 L359.8,334.0 L360.6,333.9 L361.3,334.2 L362.1,334.7 L362.8,334.8 L363.6,334.9 L364.3,334.9 L365.1,334.8 L365.8,334.5 L366.6,334.6 L367.3,334.8 L368.1,335.2 L368.8,335.2 L369.6,335.5 L370.3,335.5 L371.1,335.5 L371.8,335.5 L372.6,335.7 L373.3,336.1 L374.1,336.4 L374.8,336.7 L375.6,336.9 L376.3,337.0 L377.1,337.0 L377.8,336.9 L378.6,337.2 L379.3,337.5 L380.1,337.7 L380.8,337.7 L381.6,338.0 L382.3,338.0 L383.1,337.9 L383.8,338.1 L384.6,338.5 L385.3,338.6 L386.1,338.7 L386.8,338.8 L387.6,338.7 L388.3,338.8 L389.1,338.9 L389.8,339.2 L390.6,339.5 L391.3,339.6 L392.1,339.7 L392.8,339.9 L393.6,339.8 L394.3,339.9 L395.1,340.0 L395.8,340.2 L396.6,340.4 L397.3,340.4 L398.1,340.5 L398.8,340.3 L399.6,340.1 L400.3,339.9 L401.1,340.2 L401.8,340.3 L402.6,340.7 L403.3,340.8 L404.1,340.8 L404.8,340.6 L405.6,340.4 L406.3,340.5 L407.1,341.0 L407.8,341.5 L408.6,341.9 L409.3,342.3 L410.1,342.4 L410.8,342.5 L411.6,342.5 L412.3,342.7 L413.1,343.2 L413.8,343.6 L414.6,343.9 L415.3,344.2 L416.1,344.3 L416.8,344.2 L417.6,344.1 L418.3,344.5 L419.1,344.9 L419.8,345.3 L420.6,345.7 L421.3,346.3 L422.1,346.2 L422.8,346.3 L423.6,346.5 L424.3,346.8 L425.1,347.1 L425.8,347.5 L426.6,347.7 L427.3,347.9 L428.1,347.8 L428.8,347.9 L429.6,348.4 L430.3,348.8 L431.1,349.1 L431.8,349.5 L432.6,349.7 L433.3,349.6 L434.1,349.6 L434.8,349.9 L435.6,350.2 L436.3,350.6 L437.1,350.8 L437.8,350.9 L438.6,350.7 L439.3,350.8 L440.1,350.7 L440.8,350.9 L441.6,351.3 L442.3,351.6 L443.1,351.7 L443.8,351.9 L444.6,352.1 L445.3,352.1 L446.1,352.1 L446.8,352.5 L447.6,352.9 L448.3,353.1 L449.1,353.3 L449.8,353.6 L450.6,353.5 L451.3,353.3 L452.1,353.6 L452.8,353.8 L453.6,354.1 L454.3,354.2 L455.1,354.5 L455.8,354.3 L456.6,354.2 L457.3,354.2 L458.1,354.4 L458.8,354.5 L459.6,354.7 L460.3,354.7 L461.1,354.6 L461.8,354.4 L462.6,354.5 L463.3,354.6 L464.1,355.0 L464.8,355.0 L465.6,355.3 L466.3,355.2 L467.1,354.9 L467.8,354.8 L468.6,354.8 L469.3,354.8 L470.1,355.0 L470.8,355.4 L471.6,355.5 L472.3,355.5 L473.1,355.5 L473.8,355.3 L474.6,355.1 L475.3,355.3 L476.1,355.5 L476.8,355.5 L477.6,355.6 L478.3,355.6 L479.1,355.2 L479.8,355.2 L480.6,355.2 L481.3,355.2 L482.1,355.4 L482.8,355.3 L483.6,355.3 L484.3,355.2 L485.1,355.1 L485.8,354.8 L486.6,355.1 L487.3,355.3 L488.1,355.2 L488.8,355.1 L489.6,355.1 L490.3,354.7 L491.1,354.5 L491.8,354.4 L492.6,354.6 L493.3,354.9 L494.1,355.0 L494.8,355.2 L495.6,355.3 L496.3,355.1 L497.1,355.2 L497.8,355.6 L498.6,355.9 L499.3,356.2 L500.1,356.4 L500.8,356.4 L501.6,356.2 L502.3,356.0 L503.1,355.8 L503.8,356.1 L504.6,356.2 L505.3,356.4 L506.1,356.6 L506.8,356.6 L507.6,356.3 L508.3,356.3 L509.1,356.4 L509.8,356.5 L510.6,356.5 L511.3,356.6 L512.0,356.5 L512.8,356.6 L513.5,356.4 L514.3,356.7 L515.0,357.0 L515.8,357.2 L516.5,357.2 L517.3,357.3 L518.0,357.2 L518.8,357.1 L519.5,356.9 L520.3,357.0 L521.0,357.4 L521.8,357.5 L522.5,357.6 L523.3,357.9 L524.0,358.0 L524.8,357.5 L525.5,357.7 L526.3,358.0 L527.0,358.1 L527.8,358.1 L528.5,358.4 L529.3,358.4 L530.0,358.4 L530.8,358.4 L531.5,358.8 L532.3,359.0 L533.0,359.2 L533.8,359.5 L534.5,359.7 L535.3,359.7 L536.0,359.7 L536.8,359.7 L537.5,360.0 L538.3,360.1 L539.0,359.9 L539.8,359.9 L540.5,360.0 L541.3,359.7 L542.0,359.5 L542.8,360.2 L543.5,360.1 L544.3,360.3 L545.0,360.3 L545.8,360.3 L546.5,360.0 L547.3,360.2 L548.0,360.1 L548.8,360.5 L549.5,360.6 L550.3,360.4 L551.0,360.3 L551.8,360.3 L552.5,360.1 L553.3,360.1 L554.0,360.5 L554.8,360.7 L555.5,360.8 L556.3,360.8 L557.0,360.7 L557.8,360.6 L558.5,360.6 L559.3,360.4 L560.0,360.5 L560.8,360.5 L561.5,360.4 L562.3,360.2 L563.0,360.1 L563.8,360.1 L564.5,360.3 L565.3,360.1 L566.0,360.5 L566.8,360.7 L567.5,360.4 L568.3,360.3 L569.0,360.3 L569.8,360.0 L570.5,360.0 L571.3,360.1 L572.0,360.4 L572.8,360.7 L573.5,360.6 L574.3,360.5 L575.0,360.4 L575.8,360.4 L576.5,360.4 L577.3,360.7 L578.0,361.0 L578.8,361.3 L579.5,361.1 L580.3,361.1 L581.0,361.0 L581.8,360.8 L582.5,360.8 L583.3,361.1 L584.0,361.4 L584.8,361.2 L585.5,361.3 L586.3,361.2 L587.0,361.0 L587.8,361.2 L588.5,361.7 L589.3,361.8 L590.0,361.8 L590.8,362.0 L591.5,361.8 L592.3,361.4 L593.0,361.3 L593.8,361.7 L594.5,361.8 L595.3,361.8 L596.0,361.7 L596.8,362.0 L597.5,361.9 L598.3,361.9 L599.0,362.3 L599.8,362.6 L600.5,362.6 L601.3,362.4 L602.0,362.1 L602.8,361.9 L603.5,361.7 L604.3,361.7 L605.0,361.8 L605.8,362.1 L606.5,362.2 L607.3,362.3 L608.0,362.5 L608.8,362.3 L609.5,362.4 L610.3,362.5 L611.0,362.7 L611.8,362.8 L612.5,363.0 L613.3,363.2 L614.0,363.1 L614.8,362.9 L615.5,362.7 L616.3,362.8 L617.0,363.0 L617.8,363.0 L618.5,363.0 L619.3,363.1 L620.0,362.9 L620.8,362.7 L621.5,363.0 L622.3,363.2 L623.0,363.6 L623.8,363.5 L624.5,363.7 L625.3,363.2 L626.0,363.2 L626.8,363.3 L627.5,363.7 L628.3,363.8 L629.0,364.4 L629.8,364.5 L630.5,364.5 L631.3,364.0 L632.0,363.8 L632.8,363.7 L633.5,363.9 L634.3,364.0 L635.0,364.6 L635.8,364.4 L636.5,364.3 L637.3,364.0 L638.0,363.7 L638.8,363.7 L639.5,364.3 L640.3,364.5 L641.0,364.7 L641.8,364.8 L642.5,364.9 L643.3,364.6 L644.0,364.8 L644.8,365.1 L645.5,365.3 L646.3,365.4 L647.0,365.4 L647.8,365.1 L648.5,364.8 L649.3,364.7 L650.0,364.9 L650.8,365.0 L651.5,365.4 L652.3,365.7 L653.0,365.7 L653.8,365.5 L654.5,365.5 L655.3,365.5 L656.0,365.5 L656.8,365.8 L657.5,365.8" stroke="#000000"/>
<path d="M91.9,79.6 L92.3,72.0 L94.4,37.2 L95.2,48.5 L95.8,48.0 L95.9,55.0 L96.4,68.0 L97.5,76.0 L99.0,81.8 L100.3,85.8 L101.6,96.0 L102.5,105.5 L103.0,121.3 L104.9,110.5 L106.0,118.0 L107.2,127.0 L107.8,130.9 L108.5,136.7 L109.3,140.7 L110.0,143.9 L110.8,146.3 L111.5,148.1 L112.3,150.7 L113.0,154.3 L113.8,157.6 L114.5,160.3 L115.3,162.7 L116.0,164.3 L116.8,165.0 L117.5,166.6 L118.3,170.7 L119.0,175.1 L119.8,178.5 L120.5,180.9 L121.3,182.9 L122.0,183.6 L122.8,184.0 L123.5,185.9 L124.3,189.1 L125.0,191.9 L125.8,193.7 L126.5,195.3 L127.3,196.4 L128.1,196.6 L128.8,197.3 L129.6,199.9 L130.3,202.9 L131.1,205.0 L131.8,206.6 L132.6,208.1 L133.3,208.8 L134.1,209.0 L134.8,210.5 L135.6,213.3 L136.3,215.9 L137.1,217.8 L137.8,219.5 L138.6,220.9 L139.3,221.5 L140.1,222.3 L140.8,224.5 L141.6,227.3 L142.3,229.4 L143.1,231.0 L143.8,232.3 L144.6,233.0 L145.3,233.1 L146.1,234.1 L146.8,236.3 L147.6,238.4 L148.3,239.7 L149.1,240.9 L149.8,241.7 L150.6,241.8 L151.3,241.9 L152.1,243.3 L152.8,245.3 L153.6,246.9 L154.3,248.0 L155.1,248.9 L155.8,249.4 L156.6,249.5 L157.3,250.2 L158.1,252.0 L158.8,253.9 L159.6,255.1 L160.3,256.1 L161.1,256.9 L161.8,257.0 L162.6,257.4 L163.3,258.6 L164.1,260.4 L164.8,261.9 L165.6,262.8 L166.3,263.6 L167.1,264.0 L167.8,264.0 L168.6,264.5 L169.3,266.2 L170.1,267.9 L170.8,269.0 L171.6,269.8 L172.3,270.5 L173.1,270.5 L173.8,270.4 L174.6,271.3 L175.3,272.9 L176.1,274.2 L176.8,275.0 L177.6,275.8 L178.3,276.0 L179.1,275.9 L179.8,276.0 L180.6,277.2 L181.3,278.5 L182.1,279.5 L182.8,280.1 L183.6,280.7 L184.3,280.8 L185.1,280.7 L185.8,281.5 L186.6,282.8 L187.3,284.0 L188.1,284.9 L188.8,285.7 L189.6,286.1 L190.3,286.0 L191.1,286.2 L191.8,287.2 L192.6,288.5 L193.3,289.3 L194.1,289.9 L194.8,290.5 L195.6,290.6 L196.3,290.6 L197.1,291.1 L197.8,292.3 L198.6,293.1 L199.3,293.7 L200.1,294.2 L200.8,294.5 L201.6,294.4 L202.3,294.6 L203.1,295.5 L203.8,296.6 L204.6,297.4 L205.3,297.7 L206.1,298.0 L206.8,298.1 L207.6,297.9 L208.3,298.3 L209.1,299.4 L209.8,300.3 L210.6,300.8 L211.3,301.2 L212.1,301.6 L212.8,301.5 L213.6,301.4 L214.3,302.1 L215.1,303.0 L215.8,303.6 L216.6,304.0 L217.3,304.4 L218.1,304.5 L218.8,304.3 L219.6,304.5 L220.3,305.3 L221.1,306.2 L221.8,306.7 L222.6,307.1 L223.3,307.5 L224.1,307.4 L224.8,307.3 L225.6,307.9 L226.3,308.8 L227.1,309.6 L227.8,310.0 L228.6,310.4 L229.3,310.5 L230.1,310.2 L230.8,310.3 L231.6,311.1 L232.3,311.8 L233.1,312.1 L233.8,312.5 L234.6,312.8 L235.3,312.7 L236.1,312.7 L236.8,313.2 L237.6,313.9 L238.3,314.4 L239.1,314.7 L239.8,315.1 L240.6,315.1 L241.3,315.0 L242.1,315.2 L242.8,315.8 L243.6,316.4 L244.3,316.8 L245.1,317.1 L245.8,317.2 L246.6,317.1 L247.3,317.1 L248.1,317.3 L248.8,318.1 L249.6,318.7 L250.3,319.1 L251.1,319.4 L251.8,319.6 L252.6,319.4 L253.3,319.5 L254.1,319.9 L254.8,320.6 L255.6,321.0 L256.3,321.2 L257.1,321.4 L257.8,321.4 L258.6,321.2 L259.3,321.4 L260.1,321.9 L260.8,322.4 L261.6,322.6 L262.3,322.7 L263.1,322.8 L263.8,322.6 L264.6,322.4 L265.3,322.6 L266.1,323.2 L266.8,323.5 L267.6,323.7 L268.3,323.9 L269.1,323.9 L269.8,323.8 L270.6,323.8 L271.3,324.2 L272.1,324.7 L272.8,324.9 L273.6,325.1 L274.3,325.2 L275.1,325.0 L275.8,324.8 L276.6,325.0 L277.3,325.5 L278.1,325.8 L278.8,325.9 L279.6,326.0 L280.3,325.9 L281.1,325.6 L281.8,325.7 L282.6,326.1 L283.3,326.5 L284.1,326.6 L284.8,326.7 L285.6,326.7 L286.3,326.6 L287.1,326.4 L287.8,326.6 L288.6,327.1 L289.3,327.5 L290.1,327.6 L290.8,327.7 L291.6,327.8 L292.3,327.5 L293.1,327.5 L293.8,327.8 L294.6,328.2 L295.3,328.4 L296.1,328.6 L296.8,328.6 L297.6,328.5 L298.3,328.3 L299.1,328.5 L299.8,328.9 L300.6,329.2 L301.3,329.4 L302.1,329.5 L302.8,329.4 L303.6,329.3 L304.3,329.2 L305.1,329.7 L305.8,330.2 L306.6,330.5 L307.3,330.6 L308.1,330.8 L308.8,330.7 L309.6,330.6 L310.3,330.8 L311.1,331.2 L311.8,331.6 L312.6,331.7 L313.3,331.8 L314.1,331.8 L314.8,331.6 L315.6,331.6 L316.3,331.9 L317.1,332.3 L317.8,332.7 L318.6,333.0 L319.3,333.2 L320.1,333.2 L320.8,333.0 L321.6,333.2 L322.3,333.5 L323.1,333.9 L323.8,334.2 L324.6,334.5 L325.3,334.8 L326.1,334.9 L326.8,335.0 L327.6,335.4 L328.3,335.9 L329.1,336.4 L329.8,336.8 L330.6,337.1 L331.3,337.3 L332.1,337.5 L332.8,337.6 L333.6,338.1 L334.3,338.5 L335.1,338.8 L335.8,338.9 L336.6,339.0 L337.3,338.8 L338.1,338.8 L338.8,339.1 L339.6,339.6 L340.3,340.0 L341.1,340.1 L341.8,340.0 L342.6,339.8 L343.3,339.5 L344.1,339.4 L344.8,339.5 L345.6,340.0 L346.3,340.0 L347.1,340.0 L347.8,339.9 L348.6,339.9 L349.3,339.5 L350.1,339.5 L350.8,339.8 L351.6,340.0 L352.3,340.0 L353.1,340.2 L353.8,340.2 L354.6,339.9 L355.3,339.8 L356.1,340.0 L356.8,340.2 L357.6,340.4 L358.3,340.5 L359.1,340.6 L359.8,340.4 L360.6,340.1 L361.3,340.1 L362.1,340.6 L362.8,340.8 L363.6,341.0 L364.3,341.1 L365.1,341.1 L365.8,340.9 L366.6,340.8 L367.3,341.1 L368.1,341.3 L368.8,341.5 L369.6,341.6 L370.3,341.7 L371.1,341.5 L371.8,341.4 L372.6,341.5 L373.3,341.7 L374.1,342.0 L374.8,341.9 L375.6,342.0 L376.3,341.9 L377.1,341.8 L377.8,341.7 L378.6,342.0 L379.3,342.4 L380.1,342.6 L380.8,342.8 L381.6,342.9 L382.3,342.9 L383.1,342.5 L383.8,342.5 L384.6,342.6 L385.3,342.6 L386.1,342.6 L386.8,342.6 L387.6,342.8 L388.3,342.7 L389.1,342.8 L389.8,343.1 L390.6,343.5 L391.3,343.6 L392.1,343.7 L392.8,343.6 L393.6,343.4 L394.3,343.2 L395.1,343.1 L395.8,343.2 L396.6,343.4 L397.3,343.4 L398.1,343.4 L398.8,343.3 L399.6,343.2 L400.3,343.1 L401.1,343.4 L401.8,343.7 L402.6,343.7 L403.3,343.7 L404.1,343.7 L404.8,343.5 L405.6,343.3 L406.3,343.4 L407.1,343.7 L407.8,344.0 L408.6,344.2 L409.3,344.4 L410.1,344.6 L410.8,344.4 L411.6,344.3 L412.3,344.4 L413.1,344.5 L413.8,344.8 L414.6,345.1 L415.3,345.4 L416.1,345.6 L416.8,345.8 L417.6,345.7 L418.3,345.9 L419.1,346.0 L419.8,346.3 L420.6,346.1 L421.3,346.4 L422.1,346.4 L422.8,346.5 L423.6,346.7 L424.3,347.1 L425.1,347.3 L425.8,347.5 L426.6,347.7 L427.3,347.5 L428.1,347.4 L428.8,347.5 L429.6,348.0 L430.3,348.3 L431.1,348.7 L431.8,349.0 L432.6,349.0 L433.3,349.0 L434.1,348.9 L434.8,349.2 L435.6,349.7 L436.3,349.9 L437.1,350.0 L437.8,350.2 L438.6,350.0 L439.3,349.7 L440.1,349.6 L440.8,349.9 L441.6,350.1 L442.3,350.5 L443.1,350.7 L443.8,350.8 L444.6,350.5 L445.3,350.5 L446.1,350.5 L446.8,350.6 L447.6,350.8 L448.3,351.0 L449.1,351.1 L449.8,351.1 L450.6,351.1 L451.3,351.1 L452.1,351.6 L452.8,351.7 L453.6,351.8 L454.3,352.1 L455.1,352.0 L455.8,351.7 L456.6,351.7 L457.3,351.8 L458.1,351.8 L458.8,352.1 L459.6,352.1 L460.3,352.0 L461.1,352.0 L461.8,351.9 L462.6,351.9 L463.3,351.9 L464.1,352.1 L464.8,352.2 L465.6,352.3 L466.3,352.3 L467.1,352.5 L467.8,352.6 L468.6,352.6 L469.3,352.8 L470.1,353.0 L470.8,352.9 L471.6,352.7 L472.3,352.4 L473.1,352.2 L473.8,351.9 L474.6,351.8 L475.3,351.8 L476.1,352.2 L476.8,352.0 L477.6,351.9 L478.3,352.0 L479.1,351.9 L479.8,351.6 L480.6,351.9 L481.3,352.3 L482.1,352.5 L482.8,352.3 L483.6,352.3 L484.3,351.8 L485.1,351.2 L485.8,351.1 L486.6,351.1 L487.3,351.1 L488.1,351.2 L488.8,351.3 L489.6,351.1 L490.3,350.9 L491.1,350.9 L491.8,351.1 L492.6,351.4 L493.3,351.6 L494.1,351.8 L494.8,351.8 L495.6,351.8 L496.3,351.4 L497.1,351.7 L497.8,352.1 L498.6,352.5 L499.3,352.3 L500.1,352.6 L500.8,352.2 L501.6,351.8 L502.3,351.8 L503.1,352.3 L503.8,352.6 L504.6,352.8 L505.3,352.8 L506.1,352.6 L506.8,352.5 L507.6,352.1 L508.3,352.3 L509.1,352.5 L509.8,352.8 L510.6,352.6 L511.3,353.0 L512.0,352.7 L512.8,352.8 L513.5,352.7 L514.3,353.0 L515.0,353.0 L515.8,353.5 L516.5,353.2 L517.3,353.4 L518.0,353.2 L518.8,352.9 L519.5,352.7 L520.3,353.3 L521.0,353.4 L521.8,353.4 L522.5,353.5 L523.3,353.4 L524.0,353.0 L524.8,352.8 L525.5,353.1 L526.3,353.3 L527.0,353.3 L527.8,353.4 L528.5,353.3 L529.3,353.3 L530.0,353.0 L530.8,353.3 L531.5,353.6 L532.3,354.1 L533.0,354.1 L533.8,354.2 L534.5,354.3 L535.3,354.1 L536.0,353.9 L536.8,354.0 L537.5,354.4 L538.3,354.8 L539.0,354.8 L539.8,354.9 L540.5,354.8 L541.3,354.6 L542.0,354.3 L542.8,354.4 L543.5,354.4 L544.3,354.6 L545.0,354.8 L545.8,354.9 L546.5,355.0 L547.3,355.1 L548.0,355.2 L548.8,355.5 L549.5,355.7 L550.3,355.7 L551.0,355.8 L551.8,355.6 L552.5,355.3 L553.3,355.0 L554.0,355.0 L554.8,355.0 L555.5,355.2 L556.3,355.4 L557.0,355.6 L557.8,355.3 L558.5,355.1 L559.3,354.9 L560.0,355.0 L560.8,355.0 L561.5,354.8 L562.3,354.7 L563.0,354.7 L563.8,354.3 L564.5,354.0 L565.3,354.2 L566.0,354.4 L566.8,354.3 L567.5,354.2 L568.3,354.2 L569.0,353.9 L569.8,353.7 L570.5,353.6 L571.3,354.0 L572.0,354.3 L572.8,354.4 L573.5,354.3 L574.3,354.1 L575.0,353.7 L575.8,353.7 L576.5,353.8 L577.3,354.1 L578.0,354.6 L578.8,354.7 L579.5,354.6 L580.3,354.6 L581.0,354.3 L581.8,354.0 L582.5,354.2 L583.3,354.4 L584.0,354.9 L584.8,355.1 L585.5,355.2 L586.3,355.1 L587.0,354.7 L587.8,354.5 L588.5,354.4 L589.3,354.7 L590.0,354.4 L590.8,354.4 L591.5,354.2 L592.3,354.2 L593.0,353.9 L593.8,354.3 L594.5,354.6 L595.3,354.6 L596.0,354.6 L596.8,354.4 L597.5,354.0 L598.3,353.9 L599.0,353.9 L599.8,354.0 L600.5,354.2 L601.3,354.6 L602.0,354.5 L602.8,354.7 L603.5,354.6 L604.3,354.5 L605.0,354.6 L605.8,354.7 L606.5,354.7 L607.3,354.5 L608.0,354.4 L608.8,354.1 L609.5,353.9 L610.3,353.9 L611.0,354.2 L611.8,354.5 L612.5,354.7 L613.3,354.6 L614.0,354.4 L614.8,354.3 L615.5,354.2 L616.3,354.3 L617.0,354.6 L617.8,354.8 L618.5,354.6 L619.3,354.6 L620.0,354.9 L620.8,354.9 L621.5,354.9 L622.3,355.3 L623.0,355.4 L623.8,355.1 L624.5,355.1 L625.3,355.1 L626.0,354.9 L626.8,354.9 L627.5,354.8 L628.3,354.8 L629.0,355.0 L629.8,355.0 L630.5,355.0 L631.3,355.0 L632.0,355.2 L632.8,355.2 L633.5,355.5 L634.3,355.8 L635.0,355.9 L635.8,355.5 L636.5,355.3 L637.3,355.1 L638.0,354.8 L638.8,354.8 L639.5,355.1 L640.3,355.4 L641.0,355.3 L641.8,355.3 L642.5,355.2 L643.3,355.1 L644.0,354.9 L644.8,355.1 L645.5,355.5 L646.3,355.7 L647.0,356.1 L647.8,356.2 L648.5,356.1 L649.3,356.0 L650.0,355.8 L650.8,355.7 L651.5,355.8 L652.3,355.9 L653.0,355.9 L653.8,356.2 L654.5,356.1 L655.3,356.1 L656.0,356.3 L656.8,356.6 L657.5,356.6" stroke="#edb120"/>
</g>
<g font-family="'Liberation Serif', serif" font-size="29" fill="#262626" stroke="#262626">
<text x="92.30" y="467.2" text-anchor="middle">0</text>
<text x="233.73" y="467.2" text-anchor="middle">500</text>
<text x="375.15" y="467.2" text-anchor="middle">1000</text>
<text x="516.58" y="467.2" text-anchor="middle">1500</text>
<text x="658.00" y="467.2" text-anchor="middle">2000</text>
<text x="82.4" y="19.00" text-anchor="end">5</text>
<text x="82.4" y="160.10" text-anchor="end">-5</text>
<text x="82.4" y="301.20" text-anchor="end">-15</text>
<text x="82.4" y="442.30" text-anchor="end">-25</text>
</g>
<text x="375.0" y="506.6" text-anchor="middle" font-family="'Liberation Serif', serif" font-size="28.7" fill="#262626" stroke="#262626">Iteration number</text>
<text transform="translate(20.6,220.7) rotate(-90)" text-anchor="middle" font-family="'Liberation Serif', serif" font-size="28.9" fill="#262626" stroke="#262626">ANR (dB)</text>
<rect x="430.0" y="29.5" width="212.70000000000005" height="221.0" fill="#ffffff" stroke="#262626" stroke-width="2.2"/>
<line x1="439.0" y1="48.60" x2="490.6" y2="48.60" stroke="#ff0000" stroke-width="2.7"/>
<text x="497.9" y="58.90" font-family="'Liberation Serif', serif" font-size="26.2" fill="#000000" stroke="#000000">FX-NANC</text>
<line x1="439.0" y1="79.07" x2="490.6" y2="79.07" stroke="#00ff00" stroke-width="2.7"/>
<text x="497.9" y="89.37" font-family="'Liberation Serif', serif" font-size="26.2" fill="#000000" stroke="#000000">DFX-NANC</text>
<line x1="439.0" y1="109.54" x2="490.6" y2="109.54" stroke="#0000ff" stroke-width="2.7"/>
<text x="497.9" y="119.84" font-family="'Liberation Serif', serif" font-size="26.2" fill="#000000" stroke="#000000">BFX-NANC</text>
<line x1="439.0" y1="140.01" x2="490.6" y2="140.01" stroke="#ff00ff" stroke-width="2.7"/>
<text x="497.9" y="150.31" font-family="'Liberation Serif', serif" font-size="26.2" fill="#000000" stroke="#000000">LFX-NANC</text>
<line x1="439.0" y1="170.48" x2="490.6" y2="170.48" stroke="#00ffff" stroke-width="2.7"/>
<text x="497.9" y="180.78" font-family="'Liberation Serif', serif" font-size="26.2" fill="#000000" stroke="#000000">FE-NANC</text>
<line x1="439.0" y1="200.95" x2="490.6" y2="200.95" stroke="#000000" stroke-width="2.7"/>
<text x="497.9" y="211.25" font-family="'Liberation Serif', serif" font-size="26.2" fill="#000000" stroke="#000000">LFE-NANC</text>
<line x1="439.0" y1="231.42" x2="490.6" y2="231.42" stroke="#edb120" stroke-width="2.7"/>
<text x="497.9" y="241.72" font-family="'Liberation Serif', serif" font-size="26.2" fill="#000000" stroke="#000000">CFX-NANC</text>
</svg>
</body>
</html>
